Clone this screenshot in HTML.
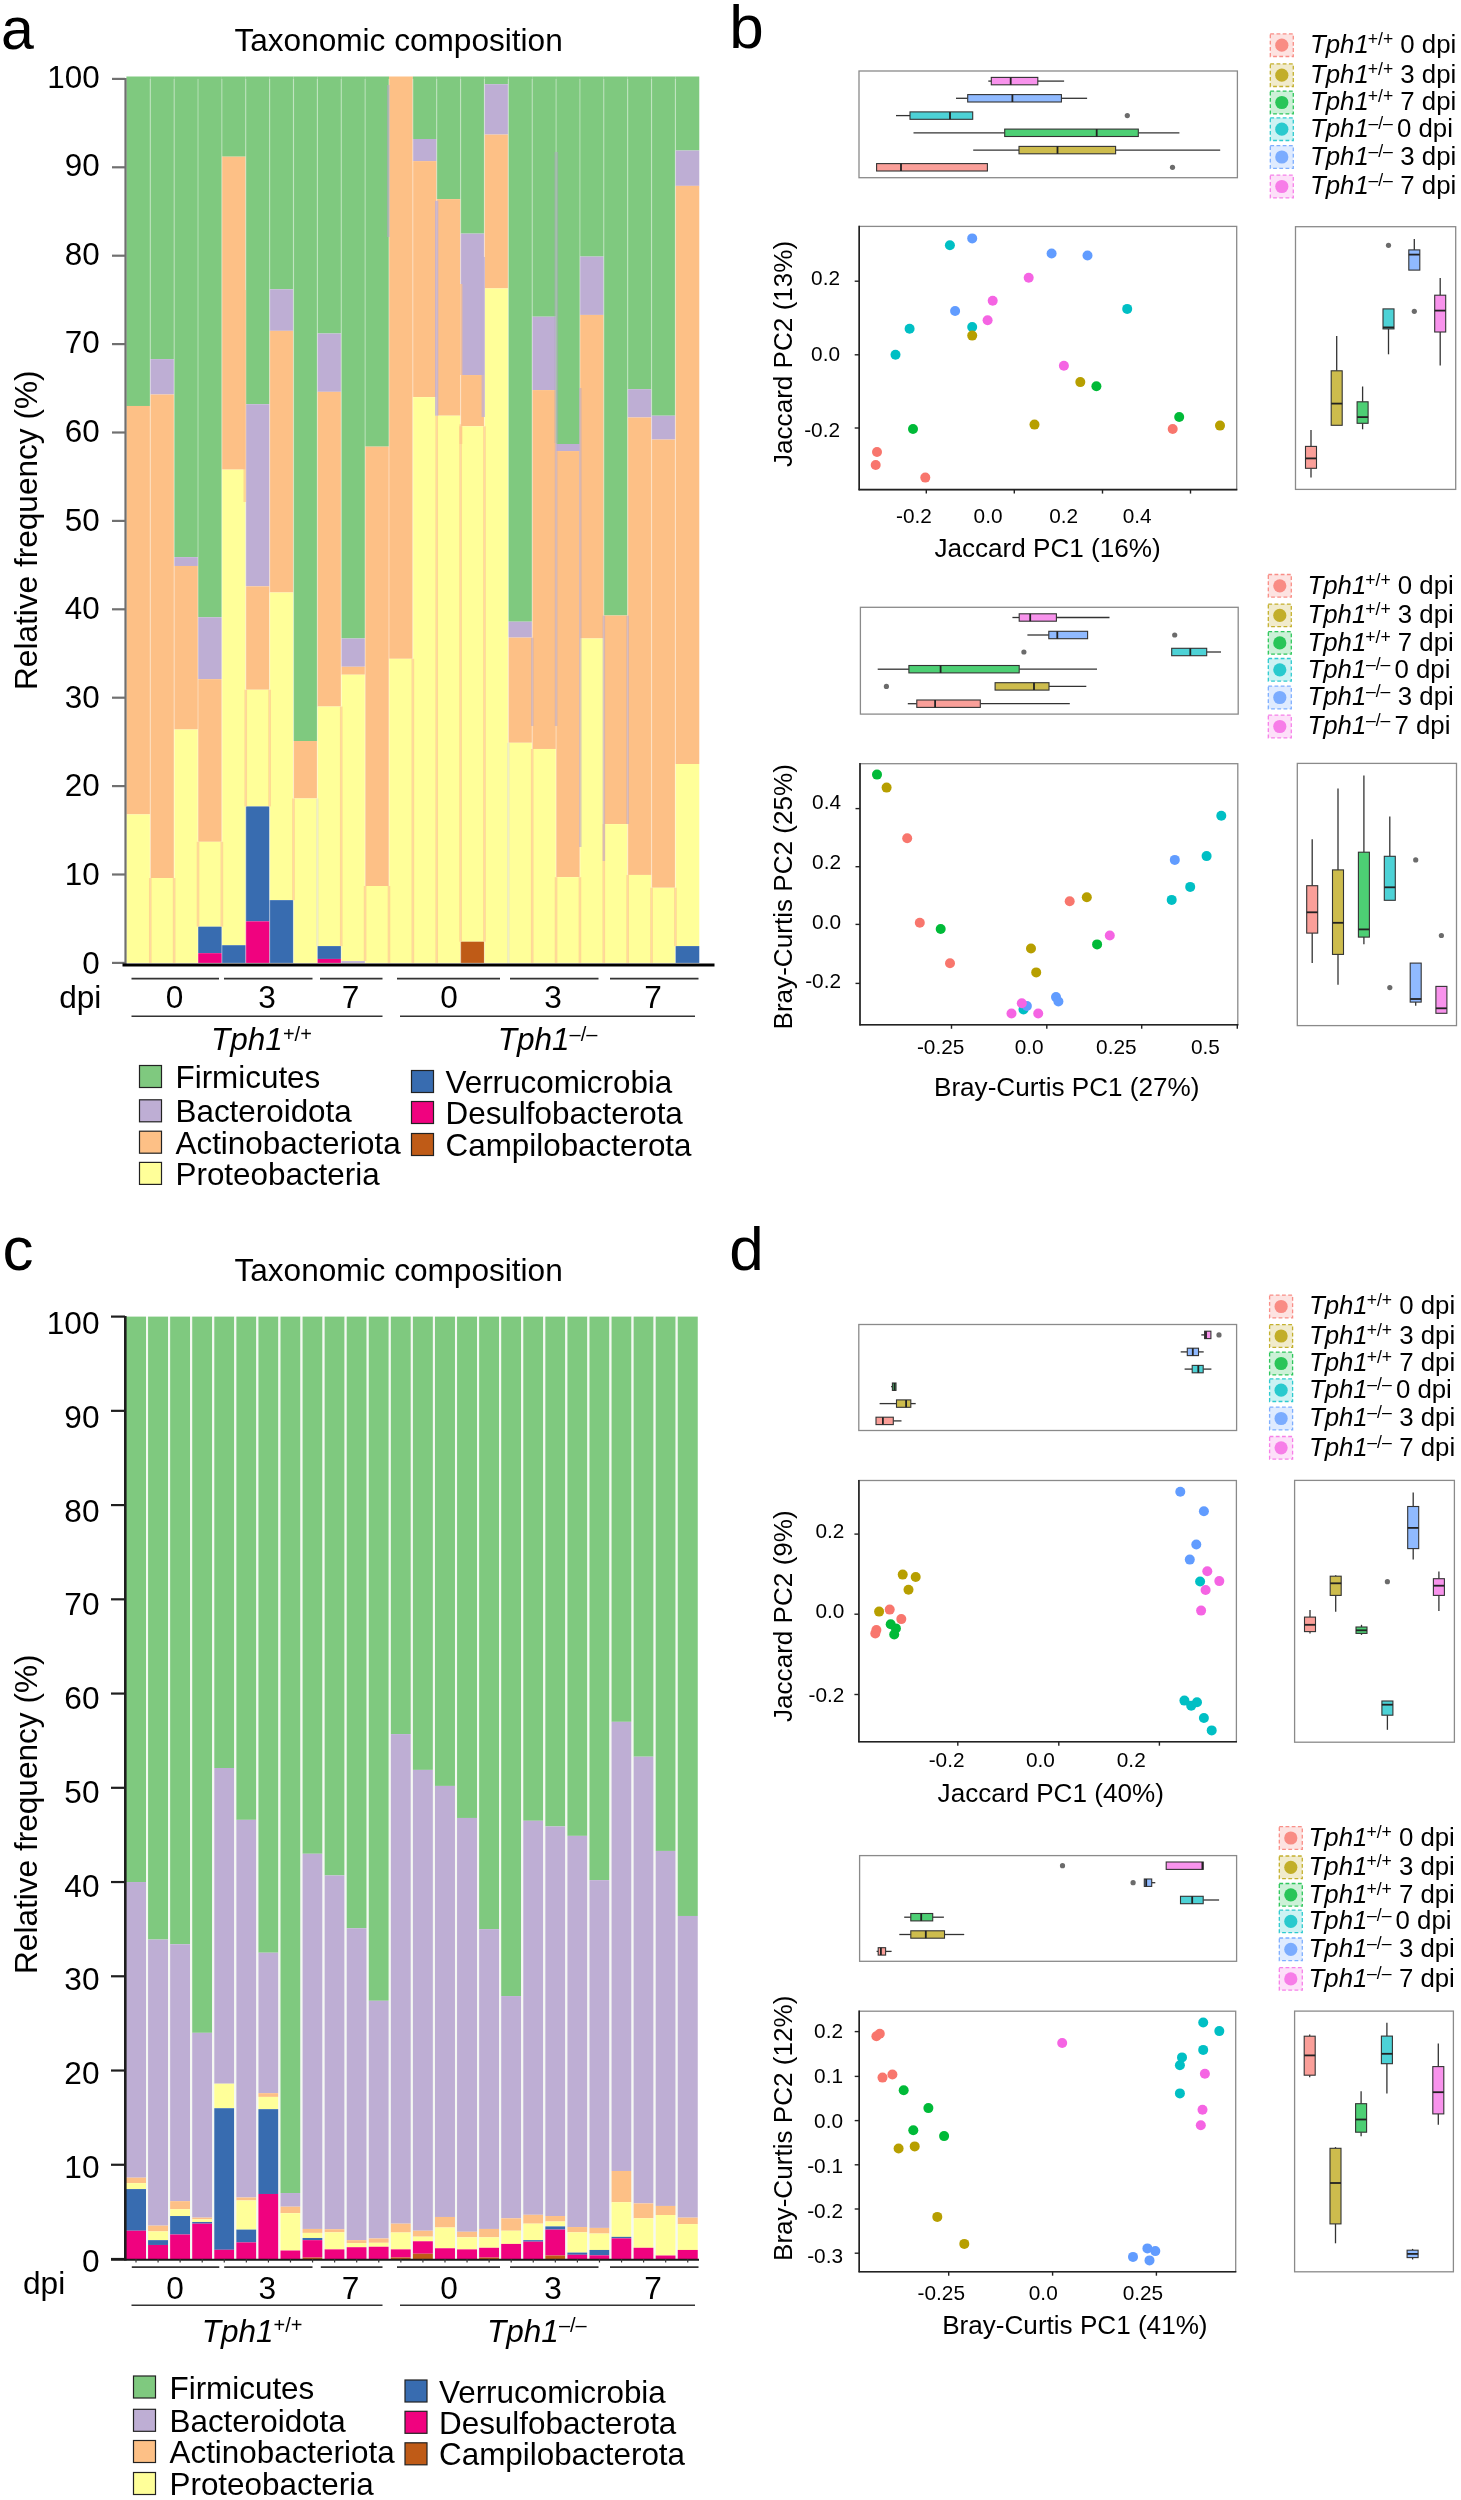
<!DOCTYPE html>
<html><head><meta charset="utf-8"><style>
html,body{margin:0;padding:0;background:#fff;}
body{width:1461px;height:2500px;overflow:hidden;}
svg{display:block;filter:blur(0.4px);}
</style></head><body>
<svg width="1461" height="2500" viewBox="0 0 1461 2500" font-family='"Liberation Sans", sans-serif'>
<rect x="0.00" y="0.00" width="1461.00" height="2500.00" fill="#fff" />
<rect x="126.40" y="76.50" width="23.87" height="329.48" fill="#7FC97F" />
<rect x="126.40" y="405.98" width="23.87" height="408.41" fill="#FDC086" />
<rect x="126.40" y="814.39" width="23.87" height="148.51" fill="#FFFF99" />
<rect x="150.27" y="76.50" width="23.87" height="282.63" fill="#7FC97F" />
<rect x="150.27" y="359.13" width="23.87" height="35.36" fill="#BEAED4" />
<rect x="150.27" y="394.49" width="23.87" height="483.55" fill="#FDC086" />
<rect x="150.27" y="878.04" width="23.87" height="84.86" fill="#FFFF99" />
<rect x="149.67" y="78.90" width="1.20" height="884.00" fill="#ffffff" opacity="0.35"/>
<rect x="174.14" y="76.50" width="23.87" height="480.64" fill="#7FC97F" />
<rect x="174.14" y="557.14" width="23.87" height="8.84" fill="#BEAED4" />
<rect x="174.14" y="565.98" width="23.87" height="163.54" fill="#FDC086" />
<rect x="174.14" y="729.52" width="23.87" height="233.38" fill="#FFFF99" />
<rect x="173.54" y="78.90" width="1.20" height="884.00" fill="#ffffff" opacity="0.35"/>
<rect x="198.01" y="76.50" width="23.87" height="540.76" fill="#7FC97F" />
<rect x="198.01" y="617.26" width="23.87" height="61.88" fill="#BEAED4" />
<rect x="198.01" y="679.14" width="23.87" height="162.66" fill="#FDC086" />
<rect x="198.01" y="841.79" width="23.87" height="84.86" fill="#FFFF99" />
<rect x="198.01" y="926.66" width="23.87" height="26.52" fill="#386CB0" />
<rect x="198.01" y="953.18" width="23.87" height="9.72" fill="#F0027F" />
<rect x="197.41" y="78.90" width="1.20" height="884.00" fill="#ffffff" opacity="0.35"/>
<rect x="221.88" y="76.50" width="23.87" height="80.19" fill="#7FC97F" />
<rect x="221.88" y="156.69" width="23.87" height="312.94" fill="#FDC086" />
<rect x="221.88" y="469.63" width="23.87" height="475.59" fill="#FFFF99" />
<rect x="221.88" y="945.22" width="23.87" height="17.68" fill="#386CB0" />
<rect x="221.28" y="78.90" width="1.20" height="884.00" fill="#ffffff" opacity="0.35"/>
<rect x="245.75" y="76.50" width="23.87" height="327.71" fill="#7FC97F" />
<rect x="245.75" y="404.21" width="23.87" height="182.10" fill="#BEAED4" />
<rect x="245.75" y="586.32" width="23.87" height="103.43" fill="#FDC086" />
<rect x="245.75" y="689.74" width="23.87" height="116.69" fill="#FFFF99" />
<rect x="245.75" y="806.43" width="23.87" height="114.92" fill="#386CB0" />
<rect x="245.75" y="921.35" width="23.87" height="41.55" fill="#F0027F" />
<rect x="245.15" y="78.90" width="1.20" height="884.00" fill="#ffffff" opacity="0.35"/>
<rect x="269.62" y="76.50" width="23.87" height="212.79" fill="#7FC97F" />
<rect x="269.62" y="289.29" width="23.87" height="41.55" fill="#BEAED4" />
<rect x="269.62" y="330.84" width="23.87" height="261.66" fill="#FDC086" />
<rect x="269.62" y="592.50" width="23.87" height="307.63" fill="#FFFF99" />
<rect x="269.62" y="900.14" width="23.87" height="62.76" fill="#386CB0" />
<rect x="269.02" y="78.90" width="1.20" height="884.00" fill="#ffffff" opacity="0.35"/>
<rect x="293.49" y="76.50" width="23.87" height="664.52" fill="#7FC97F" />
<rect x="293.49" y="741.02" width="23.87" height="57.46" fill="#FDC086" />
<rect x="293.49" y="798.48" width="23.87" height="164.42" fill="#FFFF99" />
<rect x="292.89" y="78.90" width="1.20" height="884.00" fill="#ffffff" opacity="0.35"/>
<rect x="317.36" y="76.50" width="23.87" height="256.99" fill="#7FC97F" />
<rect x="317.36" y="333.49" width="23.87" height="58.34" fill="#BEAED4" />
<rect x="317.36" y="391.84" width="23.87" height="314.70" fill="#FDC086" />
<rect x="317.36" y="706.54" width="23.87" height="239.56" fill="#FFFF99" />
<rect x="317.36" y="946.10" width="23.87" height="12.82" fill="#386CB0" />
<rect x="317.36" y="958.92" width="23.87" height="3.98" fill="#F0027F" />
<rect x="316.76" y="78.90" width="1.20" height="884.00" fill="#ffffff" opacity="0.35"/>
<rect x="341.23" y="76.50" width="23.87" height="561.97" fill="#7FC97F" />
<rect x="341.23" y="638.47" width="23.87" height="28.29" fill="#BEAED4" />
<rect x="341.23" y="666.76" width="23.87" height="7.96" fill="#FDC086" />
<rect x="341.23" y="674.72" width="23.87" height="286.42" fill="#FFFF99" />
<rect x="341.23" y="961.13" width="23.87" height="1.77" fill="#BEAED4" />
<rect x="340.63" y="78.90" width="1.20" height="884.00" fill="#ffffff" opacity="0.35"/>
<rect x="365.10" y="76.50" width="23.87" height="370.14" fill="#7FC97F" />
<rect x="365.10" y="446.64" width="23.87" height="439.35" fill="#FDC086" />
<rect x="365.10" y="885.99" width="23.87" height="76.91" fill="#FFFF99" />
<rect x="364.50" y="78.90" width="1.20" height="884.00" fill="#ffffff" opacity="0.35"/>
<rect x="388.97" y="76.50" width="23.87" height="582.30" fill="#FDC086" />
<rect x="388.97" y="658.80" width="23.87" height="304.10" fill="#FFFF99" />
<rect x="388.37" y="78.90" width="1.20" height="884.00" fill="#ffffff" opacity="0.35"/>
<rect x="412.84" y="76.50" width="23.87" height="62.51" fill="#7FC97F" />
<rect x="412.84" y="139.01" width="23.87" height="22.10" fill="#BEAED4" />
<rect x="412.84" y="161.11" width="23.87" height="236.03" fill="#FDC086" />
<rect x="412.84" y="397.14" width="23.87" height="565.76" fill="#FFFF99" />
<rect x="412.24" y="78.90" width="1.20" height="884.00" fill="#ffffff" opacity="0.35"/>
<rect x="436.71" y="76.50" width="23.87" height="122.62" fill="#7FC97F" />
<rect x="436.71" y="199.12" width="23.87" height="216.58" fill="#FDC086" />
<rect x="436.71" y="415.70" width="23.87" height="547.20" fill="#FFFF99" />
<rect x="436.11" y="78.90" width="1.20" height="884.00" fill="#ffffff" opacity="0.35"/>
<rect x="460.58" y="76.50" width="23.87" height="157.10" fill="#7FC97F" />
<rect x="460.58" y="233.60" width="23.87" height="141.44" fill="#BEAED4" />
<rect x="460.58" y="375.04" width="23.87" height="51.27" fill="#FDC086" />
<rect x="460.58" y="426.31" width="23.87" height="515.37" fill="#FFFF99" />
<rect x="460.58" y="941.68" width="23.87" height="21.22" fill="#BF5B17" />
<rect x="459.98" y="78.90" width="1.20" height="884.00" fill="#ffffff" opacity="0.35"/>
<rect x="484.45" y="76.50" width="23.87" height="7.70" fill="#7FC97F" />
<rect x="484.45" y="84.20" width="23.87" height="50.39" fill="#BEAED4" />
<rect x="484.45" y="134.59" width="23.87" height="153.82" fill="#FDC086" />
<rect x="484.45" y="288.41" width="23.87" height="674.49" fill="#FFFF99" />
<rect x="483.85" y="78.90" width="1.20" height="884.00" fill="#ffffff" opacity="0.35"/>
<rect x="508.32" y="76.50" width="23.87" height="545.18" fill="#7FC97F" />
<rect x="508.32" y="621.68" width="23.87" height="15.91" fill="#BEAED4" />
<rect x="508.32" y="637.59" width="23.87" height="105.20" fill="#FDC086" />
<rect x="508.32" y="742.78" width="23.87" height="220.12" fill="#FFFF99" />
<rect x="507.72" y="78.90" width="1.20" height="884.00" fill="#ffffff" opacity="0.35"/>
<rect x="532.19" y="76.50" width="23.87" height="240.20" fill="#7FC97F" />
<rect x="532.19" y="316.70" width="23.87" height="73.37" fill="#BEAED4" />
<rect x="532.19" y="390.07" width="23.87" height="358.90" fill="#FDC086" />
<rect x="532.19" y="748.97" width="23.87" height="213.93" fill="#FFFF99" />
<rect x="531.59" y="78.90" width="1.20" height="884.00" fill="#ffffff" opacity="0.35"/>
<rect x="556.06" y="76.50" width="23.87" height="367.49" fill="#7FC97F" />
<rect x="556.06" y="443.99" width="23.87" height="7.07" fill="#BEAED4" />
<rect x="556.06" y="451.06" width="23.87" height="426.09" fill="#FDC086" />
<rect x="556.06" y="877.15" width="23.87" height="85.75" fill="#FFFF99" />
<rect x="555.46" y="78.90" width="1.20" height="884.00" fill="#ffffff" opacity="0.35"/>
<rect x="579.93" y="76.50" width="23.87" height="180.08" fill="#7FC97F" />
<rect x="579.93" y="256.58" width="23.87" height="58.34" fill="#BEAED4" />
<rect x="579.93" y="314.93" width="23.87" height="323.54" fill="#FDC086" />
<rect x="579.93" y="638.47" width="23.87" height="324.43" fill="#FFFF99" />
<rect x="579.33" y="78.90" width="1.20" height="884.00" fill="#ffffff" opacity="0.35"/>
<rect x="603.80" y="76.50" width="23.87" height="538.99" fill="#7FC97F" />
<rect x="603.80" y="615.49" width="23.87" height="208.62" fill="#FDC086" />
<rect x="603.80" y="824.11" width="23.87" height="138.79" fill="#FFFF99" />
<rect x="603.20" y="78.90" width="1.20" height="884.00" fill="#ffffff" opacity="0.35"/>
<rect x="627.67" y="76.50" width="23.87" height="312.68" fill="#7FC97F" />
<rect x="627.67" y="389.18" width="23.87" height="28.29" fill="#BEAED4" />
<rect x="627.67" y="417.47" width="23.87" height="457.47" fill="#FDC086" />
<rect x="627.67" y="874.94" width="23.87" height="87.96" fill="#FFFF99" />
<rect x="627.07" y="78.90" width="1.20" height="884.00" fill="#ffffff" opacity="0.35"/>
<rect x="651.54" y="76.50" width="23.87" height="339.20" fill="#7FC97F" />
<rect x="651.54" y="415.70" width="23.87" height="23.87" fill="#BEAED4" />
<rect x="651.54" y="439.57" width="23.87" height="448.19" fill="#FDC086" />
<rect x="651.54" y="887.76" width="23.87" height="75.14" fill="#FFFF99" />
<rect x="650.94" y="78.90" width="1.20" height="884.00" fill="#ffffff" opacity="0.35"/>
<rect x="675.41" y="76.50" width="23.87" height="74.00" fill="#7FC97F" />
<rect x="675.41" y="150.50" width="23.87" height="35.36" fill="#BEAED4" />
<rect x="675.41" y="185.86" width="23.87" height="578.14" fill="#FDC086" />
<rect x="675.41" y="764.00" width="23.87" height="182.10" fill="#FFFF99" />
<rect x="675.41" y="946.10" width="23.87" height="16.80" fill="#386CB0" />
<rect x="674.81" y="78.90" width="1.20" height="884.00" fill="#ffffff" opacity="0.35"/>
<rect x="148.97" y="878.04" width="2.60" height="84.86" fill="#FDC086" opacity="0.6"/>
<rect x="172.84" y="878.04" width="2.60" height="84.86" fill="#FDC086" opacity="0.6"/>
<rect x="196.71" y="841.79" width="2.60" height="84.86" fill="#FDC086" opacity="0.6"/>
<rect x="220.58" y="841.79" width="2.60" height="84.86" fill="#FDC086" opacity="0.6"/>
<rect x="244.45" y="689.74" width="2.60" height="116.69" fill="#FDC086" opacity="0.6"/>
<rect x="268.32" y="689.74" width="2.60" height="116.69" fill="#FDC086" opacity="0.6"/>
<rect x="292.19" y="798.48" width="2.60" height="101.66" fill="#FDC086" opacity="0.6"/>
<rect x="316.06" y="798.48" width="2.60" height="147.63" fill="#E6E2C2" opacity="0.6"/>
<rect x="339.93" y="706.54" width="2.60" height="239.56" fill="#FDC086" opacity="0.6"/>
<rect x="363.80" y="885.99" width="2.60" height="75.14" fill="#FDC086" opacity="0.6"/>
<rect x="387.67" y="885.99" width="2.60" height="76.91" fill="#FDC086" opacity="0.6"/>
<rect x="411.54" y="658.80" width="2.60" height="304.10" fill="#FDC086" opacity="0.6"/>
<rect x="435.41" y="415.70" width="2.60" height="547.20" fill="#FDC086" opacity="0.6"/>
<rect x="459.28" y="426.31" width="2.60" height="515.37" fill="#FDC086" opacity="0.6"/>
<rect x="483.15" y="426.31" width="2.60" height="515.37" fill="#FDC086" opacity="0.6"/>
<rect x="507.02" y="742.78" width="2.60" height="220.12" fill="#E6E2C2" opacity="0.6"/>
<rect x="530.89" y="748.97" width="2.60" height="213.93" fill="#FDC086" opacity="0.6"/>
<rect x="554.76" y="877.15" width="2.60" height="85.75" fill="#FDC086" opacity="0.6"/>
<rect x="578.63" y="877.15" width="2.60" height="85.75" fill="#FDC086" opacity="0.6"/>
<rect x="602.50" y="824.11" width="2.60" height="138.79" fill="#FDC086" opacity="0.6"/>
<rect x="626.37" y="874.94" width="2.60" height="87.96" fill="#FDC086" opacity="0.6"/>
<rect x="650.24" y="887.76" width="2.60" height="75.14" fill="#FDC086" opacity="0.6"/>
<rect x="674.11" y="887.76" width="2.60" height="58.34" fill="#FDC086" opacity="0.6"/>
<rect x="435.00" y="200.80" width="3.30" height="214.90" fill="#BEAED4" opacity="0.75"/>
<rect x="459.40" y="284.00" width="3.00" height="91.00" fill="#FDC086" opacity="0.7"/>
<rect x="459.40" y="424.30" width="3.00" height="19.70" fill="#FDC086" opacity="0.6"/>
<rect x="481.60" y="257.00" width="3.40" height="160.00" fill="#BEAED4" opacity="0.7"/>
<rect x="554.50" y="152.00" width="3.60" height="291.00" fill="#A9A9B8" opacity="0.55"/>
<rect x="387.00" y="85.00" width="2.60" height="152.00" fill="#B0A8C0" opacity="0.6"/>
<rect x="243.50" y="290.00" width="2.60" height="212.00" fill="#FDC086" opacity="0.6"/>
<rect x="579.00" y="388.00" width="2.50" height="459.00" fill="#C0A8C0" opacity="0.6"/>
<rect x="531.00" y="637.70" width="2.50" height="88.30" fill="#C0A8C0" opacity="0.6"/>
<rect x="554.80" y="443.00" width="2.60" height="283.00" fill="#C0A8C0" opacity="0.6"/>
<rect x="602.60" y="615.60" width="2.50" height="245.40" fill="#C0A8C0" opacity="0.6"/>
<rect x="626.50" y="615.60" width="2.50" height="208.40" fill="#C0A8C0" opacity="0.6"/>
<line x1="125.50" y1="78.00" x2="125.50" y2="964.00" stroke="#707070" stroke-width="2.2" />
<line x1="112.00" y1="962.90" x2="125.00" y2="962.90" stroke="#707070" stroke-width="2.2" />
<text x="99.6" y="973.6" font-size="31.4" text-anchor="end" fill="#000" >0</text>
<line x1="112.00" y1="874.50" x2="125.00" y2="874.50" stroke="#707070" stroke-width="2.2" />
<text x="99.6" y="885.0" font-size="31.4" text-anchor="end" fill="#000" >10</text>
<line x1="112.00" y1="786.10" x2="125.00" y2="786.10" stroke="#707070" stroke-width="2.2" />
<text x="99.6" y="796.4" font-size="31.4" text-anchor="end" fill="#000" >20</text>
<line x1="112.00" y1="697.70" x2="125.00" y2="697.70" stroke="#707070" stroke-width="2.2" />
<text x="99.6" y="707.8" font-size="31.4" text-anchor="end" fill="#000" >30</text>
<line x1="112.00" y1="609.30" x2="125.00" y2="609.30" stroke="#707070" stroke-width="2.2" />
<text x="99.6" y="619.2" font-size="31.4" text-anchor="end" fill="#000" >40</text>
<line x1="112.00" y1="520.90" x2="125.00" y2="520.90" stroke="#707070" stroke-width="2.2" />
<text x="99.6" y="530.6" font-size="31.4" text-anchor="end" fill="#000" >50</text>
<line x1="112.00" y1="432.50" x2="125.00" y2="432.50" stroke="#707070" stroke-width="2.2" />
<text x="99.6" y="442.0" font-size="31.4" text-anchor="end" fill="#000" >60</text>
<line x1="112.00" y1="344.10" x2="125.00" y2="344.10" stroke="#707070" stroke-width="2.2" />
<text x="99.6" y="353.4" font-size="31.4" text-anchor="end" fill="#000" >70</text>
<line x1="112.00" y1="255.70" x2="125.00" y2="255.70" stroke="#707070" stroke-width="2.2" />
<text x="99.6" y="264.8" font-size="31.4" text-anchor="end" fill="#000" >80</text>
<line x1="112.00" y1="167.30" x2="125.00" y2="167.30" stroke="#707070" stroke-width="2.2" />
<text x="99.6" y="176.2" font-size="31.4" text-anchor="end" fill="#000" >90</text>
<line x1="112.00" y1="78.90" x2="125.00" y2="78.90" stroke="#707070" stroke-width="2.2" />
<text x="99.6" y="87.6" font-size="31.4" text-anchor="end" fill="#000" >100</text>
<line x1="122.50" y1="965.00" x2="714.50" y2="965.00" stroke="#000" stroke-width="3" />
<text x="1.0" y="48.5" font-size="59" text-anchor="start" fill="#000" >a</text>
<text x="234.4" y="50.8" font-size="31.6" text-anchor="start" fill="#000" >Taxonomic composition</text>
<text transform="translate(37,690) rotate(-90)" font-size="31.6" x="0" y="0">Relative frequency (%)</text>
<line x1="131.50" y1="978.60" x2="219.00" y2="978.60" stroke="#333" stroke-width="1.6" />
<line x1="224.00" y1="978.60" x2="312.50" y2="978.60" stroke="#333" stroke-width="1.6" />
<line x1="320.00" y1="978.60" x2="382.50" y2="978.60" stroke="#333" stroke-width="1.6" />
<line x1="397.00" y1="978.60" x2="500.00" y2="978.60" stroke="#333" stroke-width="1.6" />
<line x1="510.00" y1="978.60" x2="598.50" y2="978.60" stroke="#333" stroke-width="1.6" />
<line x1="610.00" y1="978.60" x2="698.50" y2="978.60" stroke="#333" stroke-width="1.6" />
<text x="174.5" y="1008.0" font-size="31.6" text-anchor="middle" fill="#000" >0</text>
<text x="267.0" y="1008.0" font-size="31.6" text-anchor="middle" fill="#000" >3</text>
<text x="350.5" y="1008.0" font-size="31.6" text-anchor="middle" fill="#000" >7</text>
<text x="449.0" y="1008.0" font-size="31.6" text-anchor="middle" fill="#000" >0</text>
<text x="553.0" y="1008.0" font-size="31.6" text-anchor="middle" fill="#000" >3</text>
<text x="653.0" y="1008.0" font-size="31.6" text-anchor="middle" fill="#000" >7</text>
<line x1="131.50" y1="1016.20" x2="382.50" y2="1016.20" stroke="#333" stroke-width="1.6" />
<line x1="400.00" y1="1016.20" x2="695.00" y2="1016.20" stroke="#333" stroke-width="1.6" />
<text x="59.2" y="1008.0" font-size="31.6" text-anchor="start" fill="#000" >dpi</text>
<text x="211.0" y="1050.3" font-size="31.5" text-anchor="start" font-style="italic" fill="#000" >Tph1</text>
<text x="282.9" y="1040.5" font-size="20" text-anchor="start" fill="#000" >+/+</text>
<text x="497.7" y="1050.3" font-size="31.5" text-anchor="start" font-style="italic" fill="#000" >Tph1</text>
<text x="569.6" y="1040.5" font-size="20" text-anchor="start" fill="#000" >–/–</text>
<rect x="139.50" y="1065.50" width="22.00" height="22.00" fill="#7FC97F" stroke="#222" stroke-width="1.2"/>
<text x="175.5" y="1088.0" font-size="31.4" text-anchor="start" fill="#000" >Firmicutes</text>
<rect x="139.50" y="1099.80" width="22.00" height="22.00" fill="#BEAED4" stroke="#222" stroke-width="1.2"/>
<text x="175.5" y="1122.3" font-size="31.4" text-anchor="start" fill="#000" >Bacteroidota</text>
<rect x="139.50" y="1131.20" width="22.00" height="22.00" fill="#FDC086" stroke="#222" stroke-width="1.2"/>
<text x="175.5" y="1153.7" font-size="31.4" text-anchor="start" fill="#000" >Actinobacteriota</text>
<rect x="139.50" y="1162.40" width="22.00" height="22.00" fill="#FFFF99" stroke="#222" stroke-width="1.2"/>
<text x="175.5" y="1184.9" font-size="31.4" text-anchor="start" fill="#000" >Proteobacteria</text>
<rect x="411.50" y="1070.50" width="22.00" height="22.00" fill="#386CB0" stroke="#222" stroke-width="1.2"/>
<text x="445.5" y="1093.0" font-size="31.4" text-anchor="start" fill="#000" >Verrucomicrobia</text>
<rect x="411.50" y="1101.50" width="22.00" height="22.00" fill="#F0027F" stroke="#222" stroke-width="1.2"/>
<text x="445.5" y="1124.0" font-size="31.4" text-anchor="start" fill="#000" >Desulfobacterota</text>
<rect x="411.50" y="1133.50" width="22.00" height="22.00" fill="#BF5B17" stroke="#222" stroke-width="1.2"/>
<text x="445.5" y="1156.0" font-size="31.4" text-anchor="start" fill="#000" >Campilobacterota</text>
<text x="729.2" y="48.0" font-size="62" text-anchor="start" fill="#000" >b</text>
<rect x="1270.3" y="33.9" width="23" height="22.6" fill="#FDE3E1" stroke="#F8766D" stroke-opacity="0.8" stroke-width="1.3" stroke-dasharray="3.8 2.4"/>
<circle cx="1281.8" cy="45.2" r="6.6" fill="#F8766D" opacity="0.8"/>
<text x="1310.0" y="53.1" font-size="25.8" text-anchor="start" font-style="italic" fill="#000" >Tph1</text>
<text x="1367.8" y="45.1" font-size="17.6" text-anchor="start" fill="#000" >+/+</text>
<text x="1400.3" y="53.1" font-size="25.8" text-anchor="start" fill="#000" >0 dpi</text>
<rect x="1270.3" y="63.9" width="23" height="22.6" fill="#F1EBCC" stroke="#B79F00" stroke-opacity="0.8" stroke-width="1.3" stroke-dasharray="3.8 2.4"/>
<circle cx="1281.8" cy="75.2" r="6.6" fill="#B79F00" opacity="0.8"/>
<text x="1310.0" y="83.1" font-size="25.8" text-anchor="start" font-style="italic" fill="#000" >Tph1</text>
<text x="1367.8" y="75.1" font-size="17.6" text-anchor="start" fill="#000" >+/+</text>
<text x="1400.3" y="83.1" font-size="25.8" text-anchor="start" fill="#000" >3 dpi</text>
<rect x="1270.3" y="91.2" width="23" height="22.6" fill="#CCF1D7" stroke="#00BA38" stroke-opacity="0.8" stroke-width="1.3" stroke-dasharray="3.8 2.4"/>
<circle cx="1281.8" cy="102.5" r="6.6" fill="#00BA38" opacity="0.8"/>
<text x="1310.0" y="110.4" font-size="25.8" text-anchor="start" font-style="italic" fill="#000" >Tph1</text>
<text x="1367.8" y="102.4" font-size="17.6" text-anchor="start" fill="#000" >+/+</text>
<text x="1400.3" y="110.4" font-size="25.8" text-anchor="start" fill="#000" >7 dpi</text>
<rect x="1270.3" y="117.9" width="23" height="22.6" fill="#CCF2F3" stroke="#00BFC4" stroke-opacity="0.8" stroke-width="1.3" stroke-dasharray="3.8 2.4"/>
<circle cx="1281.8" cy="129.2" r="6.6" fill="#00BFC4" opacity="0.8"/>
<text x="1310.0" y="137.1" font-size="25.8" text-anchor="start" font-style="italic" fill="#000" >Tph1</text>
<text x="1368.4" y="129.1" font-size="17.6" text-anchor="start" fill="#000" >–/–</text>
<text x="1397.0" y="137.1" font-size="25.8" text-anchor="start" fill="#000" >0 dpi</text>
<rect x="1270.3" y="145.7" width="23" height="22.6" fill="#DFEBFF" stroke="#619CFF" stroke-opacity="0.8" stroke-width="1.3" stroke-dasharray="3.8 2.4"/>
<circle cx="1281.8" cy="157.0" r="6.6" fill="#619CFF" opacity="0.8"/>
<text x="1310.0" y="164.9" font-size="25.8" text-anchor="start" font-style="italic" fill="#000" >Tph1</text>
<text x="1368.4" y="156.9" font-size="17.6" text-anchor="start" fill="#000" >–/–</text>
<text x="1400.3" y="164.9" font-size="25.8" text-anchor="start" fill="#000" >3 dpi</text>
<rect x="1270.3" y="175.2" width="23" height="22.6" fill="#FDE0F9" stroke="#F564E3" stroke-opacity="0.8" stroke-width="1.3" stroke-dasharray="3.8 2.4"/>
<circle cx="1281.8" cy="186.5" r="6.6" fill="#F564E3" opacity="0.8"/>
<text x="1310.0" y="194.4" font-size="25.8" text-anchor="start" font-style="italic" fill="#000" >Tph1</text>
<text x="1368.4" y="186.4" font-size="17.6" text-anchor="start" fill="#000" >–/–</text>
<text x="1400.3" y="194.4" font-size="25.8" text-anchor="start" fill="#000" >7 dpi</text>
<rect x="859.00" y="71.00" width="378.40" height="106.70" fill="none" stroke="#8a8a8a" stroke-width="1.3"/>
<line x1="988.30" y1="81.10" x2="991.30" y2="81.10" stroke="#333" stroke-width="1.3" />
<line x1="1037.80" y1="81.10" x2="1064.10" y2="81.10" stroke="#333" stroke-width="1.3" />
<rect x="991.30" y="77.40" width="46.50" height="7.40" fill="#F893EC" stroke="#333" stroke-width="1.1"/>
<line x1="1010.70" y1="77.40" x2="1010.70" y2="84.80" stroke="#222" stroke-width="1.8" />
<line x1="956.00" y1="98.30" x2="967.70" y2="98.30" stroke="#333" stroke-width="1.3" />
<line x1="1061.40" y1="98.30" x2="1087.10" y2="98.30" stroke="#333" stroke-width="1.3" />
<rect x="967.70" y="94.60" width="93.70" height="7.40" fill="#90BAFF" stroke="#333" stroke-width="1.1"/>
<line x1="1012.40" y1="94.60" x2="1012.40" y2="102.00" stroke="#222" stroke-width="1.8" />
<line x1="896.00" y1="115.60" x2="910.00" y2="115.60" stroke="#333" stroke-width="1.3" />
<rect x="910.00" y="111.90" width="62.70" height="7.40" fill="#4DD2D6" stroke="#333" stroke-width="1.1"/>
<line x1="950.00" y1="111.90" x2="950.00" y2="119.30" stroke="#222" stroke-width="1.8" />
<circle cx="1127.30" cy="115.60" r="2.6" fill="#6b6b6b"/>
<line x1="913.50" y1="132.80" x2="1004.70" y2="132.80" stroke="#333" stroke-width="1.3" />
<line x1="1138.30" y1="132.80" x2="1179.40" y2="132.80" stroke="#333" stroke-width="1.3" />
<rect x="1004.70" y="129.10" width="133.60" height="7.40" fill="#4DCF74" stroke="#333" stroke-width="1.1"/>
<line x1="1096.70" y1="129.10" x2="1096.70" y2="136.50" stroke="#222" stroke-width="1.8" />
<line x1="973.20" y1="150.10" x2="1019.00" y2="150.10" stroke="#333" stroke-width="1.3" />
<line x1="1115.60" y1="150.10" x2="1220.20" y2="150.10" stroke="#333" stroke-width="1.3" />
<rect x="1019.00" y="146.40" width="96.60" height="7.40" fill="#CDBC4D" stroke="#333" stroke-width="1.1"/>
<line x1="1057.50" y1="146.40" x2="1057.50" y2="153.80" stroke="#222" stroke-width="1.8" />
<rect x="876.60" y="163.60" width="110.80" height="7.40" fill="#FA9F99" stroke="#333" stroke-width="1.1"/>
<line x1="901.00" y1="163.60" x2="901.00" y2="171.00" stroke="#222" stroke-width="1.8" />
<circle cx="1172.50" cy="167.30" r="2.6" fill="#6b6b6b"/>
<rect x="1295.50" y="226.70" width="160.20" height="262.70" fill="none" stroke="#8a8a8a" stroke-width="1.3"/>
<line x1="1311.00" y1="429.90" x2="1311.00" y2="446.40" stroke="#333" stroke-width="1.3" />
<line x1="1311.00" y1="468.30" x2="1311.00" y2="477.60" stroke="#333" stroke-width="1.3" />
<rect x="1305.50" y="446.40" width="11.00" height="21.90" fill="#FA9F99" stroke="#333" stroke-width="1.1"/>
<line x1="1305.50" y1="458.40" x2="1316.50" y2="458.40" stroke="#222" stroke-width="1.8" />
<line x1="1336.70" y1="336.10" x2="1336.70" y2="370.80" stroke="#333" stroke-width="1.3" />
<rect x="1331.20" y="370.80" width="11.00" height="54.50" fill="#CDBC4D" stroke="#333" stroke-width="1.1"/>
<line x1="1331.20" y1="403.60" x2="1342.20" y2="403.60" stroke="#222" stroke-width="1.8" />
<line x1="1362.60" y1="386.50" x2="1362.60" y2="401.80" stroke="#333" stroke-width="1.3" />
<line x1="1362.60" y1="423.30" x2="1362.60" y2="429.30" stroke="#333" stroke-width="1.3" />
<rect x="1357.10" y="401.80" width="11.00" height="21.50" fill="#4DCF74" stroke="#333" stroke-width="1.1"/>
<line x1="1357.10" y1="417.10" x2="1368.10" y2="417.10" stroke="#222" stroke-width="1.8" />
<line x1="1388.50" y1="328.90" x2="1388.50" y2="354.30" stroke="#333" stroke-width="1.3" />
<rect x="1383.00" y="308.90" width="11.00" height="20.00" fill="#4DD2D6" stroke="#333" stroke-width="1.1"/>
<line x1="1383.00" y1="327.40" x2="1394.00" y2="327.40" stroke="#222" stroke-width="1.8" />
<circle cx="1388.50" cy="245.30" r="2.6" fill="#6b6b6b"/>
<line x1="1414.30" y1="239.10" x2="1414.30" y2="249.90" stroke="#333" stroke-width="1.3" />
<rect x="1408.80" y="249.90" width="11.00" height="20.20" fill="#90BAFF" stroke="#333" stroke-width="1.1"/>
<line x1="1408.80" y1="254.60" x2="1419.80" y2="254.60" stroke="#222" stroke-width="1.8" />
<circle cx="1414.30" cy="311.30" r="2.6" fill="#6b6b6b"/>
<line x1="1440.20" y1="278.10" x2="1440.20" y2="295.20" stroke="#333" stroke-width="1.3" />
<line x1="1440.20" y1="332.00" x2="1440.20" y2="365.50" stroke="#333" stroke-width="1.3" />
<rect x="1434.70" y="295.20" width="11.00" height="36.80" fill="#F893EC" stroke="#333" stroke-width="1.1"/>
<line x1="1434.70" y1="310.60" x2="1445.70" y2="310.60" stroke="#222" stroke-width="1.8" />
<rect x="859.20" y="226.40" width="377.50" height="263.20" fill="none" stroke="#8a8a8a" stroke-width="1.3"/>
<line x1="859.20" y1="225.80" x2="859.20" y2="490.20" stroke="#222" stroke-width="1.6" />
<line x1="858.60" y1="489.60" x2="1237.30" y2="489.60" stroke="#222" stroke-width="1.6" />
<line x1="854.70" y1="281.20" x2="859.20" y2="281.20" stroke="#222" stroke-width="1.4" />
<line x1="854.70" y1="354.80" x2="859.20" y2="354.80" stroke="#222" stroke-width="1.4" />
<line x1="854.70" y1="428.00" x2="859.20" y2="428.00" stroke="#222" stroke-width="1.4" />
<text x="840.0" y="284.9" font-size="20.8" text-anchor="end" fill="#000" >0.2</text>
<text x="840.0" y="360.9" font-size="20.8" text-anchor="end" fill="#000" >0.0</text>
<text x="840.0" y="436.8" font-size="20.8" text-anchor="end" fill="#000" >-0.2</text>
<line x1="926.30" y1="489.60" x2="926.30" y2="493.60" stroke="#222" stroke-width="1.4" />
<line x1="1014.30" y1="489.60" x2="1014.30" y2="493.60" stroke="#222" stroke-width="1.4" />
<line x1="1102.50" y1="489.60" x2="1102.50" y2="493.60" stroke="#222" stroke-width="1.4" />
<line x1="1190.50" y1="489.60" x2="1190.50" y2="493.60" stroke="#222" stroke-width="1.4" />
<text x="896.0" y="522.7" font-size="20.8" text-anchor="start" fill="#000" >-0.2</text>
<text x="973.6" y="522.7" font-size="20.8" text-anchor="start" fill="#000" >0.0</text>
<text x="1049.2" y="522.7" font-size="20.8" text-anchor="start" fill="#000" >0.2</text>
<text x="1122.7" y="522.7" font-size="20.8" text-anchor="start" fill="#000" >0.4</text>
<circle cx="949.9" cy="245.2" r="5.0" fill="#00BFC4"/>
<circle cx="972.2" cy="238.4" r="5.0" fill="#619CFF"/>
<circle cx="1051.6" cy="253.5" r="5.0" fill="#619CFF"/>
<circle cx="1087.5" cy="255.5" r="5.0" fill="#619CFF"/>
<circle cx="1028.7" cy="277.8" r="5.0" fill="#F564E3"/>
<circle cx="992.7" cy="300.7" r="5.0" fill="#F564E3"/>
<circle cx="955.1" cy="311.0" r="5.0" fill="#619CFF"/>
<circle cx="1127.2" cy="308.9" r="5.0" fill="#00BFC4"/>
<circle cx="987.6" cy="320.2" r="5.0" fill="#F564E3"/>
<circle cx="972.2" cy="327.0" r="5.0" fill="#00BFC4"/>
<circle cx="972.2" cy="335.6" r="5.0" fill="#B79F00"/>
<circle cx="909.6" cy="328.8" r="5.0" fill="#00BFC4"/>
<circle cx="895.5" cy="354.8" r="5.0" fill="#00BFC4"/>
<circle cx="1063.9" cy="365.7" r="5.0" fill="#F564E3"/>
<circle cx="1080.3" cy="382.1" r="5.0" fill="#B79F00"/>
<circle cx="1096.4" cy="386.2" r="5.0" fill="#00BA38"/>
<circle cx="1179.2" cy="417.0" r="5.0" fill="#00BA38"/>
<circle cx="1220.0" cy="425.6" r="5.0" fill="#B79F00"/>
<circle cx="1172.7" cy="429.0" r="5.0" fill="#F8766D"/>
<circle cx="1034.5" cy="424.6" r="5.0" fill="#B79F00"/>
<circle cx="913.0" cy="429.0" r="5.0" fill="#00BA38"/>
<circle cx="877.0" cy="452.0" r="5.0" fill="#F8766D"/>
<circle cx="875.7" cy="465.0" r="5.0" fill="#F8766D"/>
<circle cx="925.3" cy="477.6" r="5.0" fill="#F8766D"/>
<text x="934.4" y="556.5" font-size="26.1" text-anchor="start" fill="#000" >Jaccard PC1 (16%)</text>
<text transform="translate(792.4,467.0) rotate(-90)" font-size="26.1" x="0" y="0">Jaccard PC2 (13%)</text>
<rect x="1268.3" y="574.5" width="23" height="22.6" fill="#FDE3E1" stroke="#F8766D" stroke-opacity="0.8" stroke-width="1.3" stroke-dasharray="3.8 2.4"/>
<circle cx="1279.8" cy="585.8" r="6.6" fill="#F8766D" opacity="0.8"/>
<text x="1307.5" y="593.7" font-size="25.8" text-anchor="start" font-style="italic" fill="#000" >Tph1</text>
<text x="1365.3" y="585.7" font-size="17.6" text-anchor="start" fill="#000" >+/+</text>
<text x="1397.8" y="593.7" font-size="25.8" text-anchor="start" fill="#000" >0 dpi</text>
<rect x="1268.3" y="604.1" width="23" height="22.6" fill="#F1EBCC" stroke="#B79F00" stroke-opacity="0.8" stroke-width="1.3" stroke-dasharray="3.8 2.4"/>
<circle cx="1279.8" cy="615.4" r="6.6" fill="#B79F00" opacity="0.8"/>
<text x="1307.5" y="623.3" font-size="25.8" text-anchor="start" font-style="italic" fill="#000" >Tph1</text>
<text x="1365.3" y="615.3" font-size="17.6" text-anchor="start" fill="#000" >+/+</text>
<text x="1397.8" y="623.3" font-size="25.8" text-anchor="start" fill="#000" >3 dpi</text>
<rect x="1268.3" y="631.6" width="23" height="22.6" fill="#CCF1D7" stroke="#00BA38" stroke-opacity="0.8" stroke-width="1.3" stroke-dasharray="3.8 2.4"/>
<circle cx="1279.8" cy="642.9" r="6.6" fill="#00BA38" opacity="0.8"/>
<text x="1307.5" y="650.8" font-size="25.8" text-anchor="start" font-style="italic" fill="#000" >Tph1</text>
<text x="1365.3" y="642.8" font-size="17.6" text-anchor="start" fill="#000" >+/+</text>
<text x="1397.8" y="650.8" font-size="25.8" text-anchor="start" fill="#000" >7 dpi</text>
<rect x="1268.3" y="658.5" width="23" height="22.6" fill="#CCF2F3" stroke="#00BFC4" stroke-opacity="0.8" stroke-width="1.3" stroke-dasharray="3.8 2.4"/>
<circle cx="1279.8" cy="669.8" r="6.6" fill="#00BFC4" opacity="0.8"/>
<text x="1307.5" y="677.7" font-size="25.8" text-anchor="start" font-style="italic" fill="#000" >Tph1</text>
<text x="1365.9" y="669.7" font-size="17.6" text-anchor="start" fill="#000" >–/–</text>
<text x="1394.5" y="677.7" font-size="25.8" text-anchor="start" fill="#000" >0 dpi</text>
<rect x="1268.3" y="686.2" width="23" height="22.6" fill="#DFEBFF" stroke="#619CFF" stroke-opacity="0.8" stroke-width="1.3" stroke-dasharray="3.8 2.4"/>
<circle cx="1279.8" cy="697.5" r="6.6" fill="#619CFF" opacity="0.8"/>
<text x="1307.5" y="705.4" font-size="25.8" text-anchor="start" font-style="italic" fill="#000" >Tph1</text>
<text x="1365.9" y="697.4" font-size="17.6" text-anchor="start" fill="#000" >–/–</text>
<text x="1397.8" y="705.4" font-size="25.8" text-anchor="start" fill="#000" >3 dpi</text>
<rect x="1268.3" y="715.2" width="23" height="22.6" fill="#FDE0F9" stroke="#F564E3" stroke-opacity="0.8" stroke-width="1.3" stroke-dasharray="3.8 2.4"/>
<circle cx="1279.8" cy="726.5" r="6.6" fill="#F564E3" opacity="0.8"/>
<text x="1307.5" y="734.4" font-size="25.8" text-anchor="start" font-style="italic" fill="#000" >Tph1</text>
<text x="1365.9" y="726.4" font-size="17.6" text-anchor="start" fill="#000" >–/–</text>
<text x="1394.5" y="734.4" font-size="25.8" text-anchor="start" fill="#000" >7 dpi</text>
<rect x="860.40" y="607.30" width="377.80" height="106.80" fill="none" stroke="#8a8a8a" stroke-width="1.3"/>
<line x1="1012.40" y1="617.50" x2="1019.20" y2="617.50" stroke="#333" stroke-width="1.3" />
<line x1="1056.40" y1="617.50" x2="1109.50" y2="617.50" stroke="#333" stroke-width="1.3" />
<rect x="1019.20" y="613.80" width="37.20" height="7.40" fill="#F893EC" stroke="#333" stroke-width="1.1"/>
<line x1="1030.20" y1="613.80" x2="1030.20" y2="621.20" stroke="#222" stroke-width="1.8" />
<line x1="1027.40" y1="635.00" x2="1048.80" y2="635.00" stroke="#333" stroke-width="1.3" />
<rect x="1048.80" y="631.30" width="38.80" height="7.40" fill="#90BAFF" stroke="#333" stroke-width="1.1"/>
<line x1="1057.30" y1="631.30" x2="1057.30" y2="638.70" stroke="#222" stroke-width="1.8" />
<circle cx="1174.70" cy="635.00" r="2.6" fill="#6b6b6b"/>
<line x1="1206.70" y1="652.00" x2="1221.00" y2="652.00" stroke="#333" stroke-width="1.3" />
<rect x="1171.70" y="648.30" width="35.00" height="7.40" fill="#4DD2D6" stroke="#333" stroke-width="1.1"/>
<line x1="1190.30" y1="648.30" x2="1190.30" y2="655.70" stroke="#222" stroke-width="1.8" />
<circle cx="1023.90" cy="652.00" r="2.6" fill="#6b6b6b"/>
<line x1="877.70" y1="669.20" x2="908.90" y2="669.20" stroke="#333" stroke-width="1.3" />
<line x1="1019.20" y1="669.20" x2="1097.00" y2="669.20" stroke="#333" stroke-width="1.3" />
<rect x="908.90" y="665.50" width="110.30" height="7.40" fill="#4DCF74" stroke="#333" stroke-width="1.1"/>
<line x1="940.60" y1="665.50" x2="940.60" y2="672.90" stroke="#222" stroke-width="1.8" />
<line x1="1049.00" y1="686.40" x2="1086.30" y2="686.40" stroke="#333" stroke-width="1.3" />
<rect x="995.10" y="682.70" width="53.90" height="7.40" fill="#CDBC4D" stroke="#333" stroke-width="1.1"/>
<line x1="1034.00" y1="682.70" x2="1034.00" y2="690.10" stroke="#222" stroke-width="1.8" />
<circle cx="886.40" cy="686.40" r="2.6" fill="#6b6b6b"/>
<line x1="907.80" y1="703.70" x2="916.80" y2="703.70" stroke="#333" stroke-width="1.3" />
<line x1="980.30" y1="703.70" x2="1069.80" y2="703.70" stroke="#333" stroke-width="1.3" />
<rect x="916.80" y="700.00" width="63.50" height="7.40" fill="#FA9F99" stroke="#333" stroke-width="1.1"/>
<line x1="935.10" y1="700.00" x2="935.10" y2="707.40" stroke="#222" stroke-width="1.8" />
<rect x="860.00" y="763.70" width="377.80" height="261.10" fill="none" stroke="#8a8a8a" stroke-width="1.3"/>
<line x1="860.00" y1="763.10" x2="860.00" y2="1025.40" stroke="#222" stroke-width="1.6" />
<line x1="859.40" y1="1024.80" x2="1238.40" y2="1024.80" stroke="#222" stroke-width="1.6" />
<line x1="855.50" y1="808.60" x2="860.00" y2="808.60" stroke="#222" stroke-width="1.4" />
<line x1="855.50" y1="866.70" x2="860.00" y2="866.70" stroke="#222" stroke-width="1.4" />
<line x1="855.50" y1="924.40" x2="860.00" y2="924.40" stroke="#222" stroke-width="1.4" />
<line x1="855.50" y1="983.40" x2="860.00" y2="983.40" stroke="#222" stroke-width="1.4" />
<text x="841.0" y="809.0" font-size="20.8" text-anchor="end" fill="#000" >0.4</text>
<text x="841.0" y="868.7" font-size="20.8" text-anchor="end" fill="#000" >0.2</text>
<text x="841.0" y="928.7" font-size="20.8" text-anchor="end" fill="#000" >0.0</text>
<text x="841.0" y="988.2" font-size="20.8" text-anchor="end" fill="#000" >-0.2</text>
<line x1="951.50" y1="1024.80" x2="951.50" y2="1028.80" stroke="#222" stroke-width="1.4" />
<line x1="1046.80" y1="1024.80" x2="1046.80" y2="1028.80" stroke="#222" stroke-width="1.4" />
<line x1="1141.70" y1="1024.80" x2="1141.70" y2="1028.80" stroke="#222" stroke-width="1.4" />
<line x1="1237.30" y1="1024.80" x2="1237.30" y2="1028.80" stroke="#222" stroke-width="1.4" />
<text x="916.9" y="1053.8" font-size="20.8" text-anchor="start" fill="#000" >-0.25</text>
<text x="1014.7" y="1053.8" font-size="20.8" text-anchor="start" fill="#000" >0.0</text>
<text x="1096.1" y="1053.8" font-size="20.8" text-anchor="start" fill="#000" >0.25</text>
<text x="1190.9" y="1053.8" font-size="20.8" text-anchor="start" fill="#000" >0.5</text>
<circle cx="877.0" cy="774.6" r="5.0" fill="#00BA38"/>
<circle cx="886.6" cy="787.6" r="5.0" fill="#B79F00"/>
<circle cx="907.2" cy="838.3" r="5.0" fill="#F8766D"/>
<circle cx="1221.3" cy="815.7" r="5.0" fill="#00BFC4"/>
<circle cx="1174.8" cy="859.9" r="5.0" fill="#619CFF"/>
<circle cx="1206.6" cy="856.1" r="5.0" fill="#00BFC4"/>
<circle cx="1190.2" cy="886.9" r="5.0" fill="#00BFC4"/>
<circle cx="1171.7" cy="899.9" r="5.0" fill="#00BFC4"/>
<circle cx="1069.7" cy="901.3" r="5.0" fill="#F8766D"/>
<circle cx="1086.8" cy="897.2" r="5.0" fill="#B79F00"/>
<circle cx="919.8" cy="922.8" r="5.0" fill="#F8766D"/>
<circle cx="940.7" cy="929.0" r="5.0" fill="#00BA38"/>
<circle cx="1109.8" cy="935.5" r="5.0" fill="#F564E3"/>
<circle cx="1097.1" cy="944.4" r="5.0" fill="#00BA38"/>
<circle cx="1031.0" cy="948.5" r="5.0" fill="#B79F00"/>
<circle cx="950.0" cy="963.2" r="5.0" fill="#F8766D"/>
<circle cx="1036.2" cy="972.4" r="5.0" fill="#B79F00"/>
<circle cx="1056.0" cy="997.1" r="5.0" fill="#619CFF"/>
<circle cx="1058.4" cy="1001.5" r="5.0" fill="#619CFF"/>
<circle cx="1023.5" cy="1009.4" r="5.0" fill="#00BFC4"/>
<circle cx="1026.9" cy="1006.0" r="5.0" fill="#619CFF"/>
<circle cx="1021.8" cy="1003.3" r="5.0" fill="#F564E3"/>
<circle cx="1011.5" cy="1013.5" r="5.0" fill="#F564E3"/>
<circle cx="1038.2" cy="1013.5" r="5.0" fill="#F564E3"/>
<text x="934.0" y="1096.0" font-size="26.1" text-anchor="start" fill="#000" >Bray-Curtis PC1 (27%)</text>
<text transform="translate(791.5,1029.5) rotate(-90)" font-size="26.1" x="0" y="0">Bray-Curtis PC2 (25%)</text>
<rect x="1297.30" y="763.40" width="159.20" height="262.20" fill="none" stroke="#8a8a8a" stroke-width="1.3"/>
<line x1="1312.20" y1="839.20" x2="1312.20" y2="885.70" stroke="#333" stroke-width="1.3" />
<line x1="1312.20" y1="933.10" x2="1312.20" y2="963.10" stroke="#333" stroke-width="1.3" />
<rect x="1306.70" y="885.70" width="11.00" height="47.40" fill="#FA9F99" stroke="#333" stroke-width="1.1"/>
<line x1="1306.70" y1="912.30" x2="1317.70" y2="912.30" stroke="#222" stroke-width="1.8" />
<line x1="1338.00" y1="788.40" x2="1338.00" y2="869.90" stroke="#333" stroke-width="1.3" />
<line x1="1338.00" y1="954.40" x2="1338.00" y2="984.80" stroke="#333" stroke-width="1.3" />
<rect x="1332.50" y="869.90" width="11.00" height="84.50" fill="#CDBC4D" stroke="#333" stroke-width="1.1"/>
<line x1="1332.50" y1="922.80" x2="1343.50" y2="922.80" stroke="#222" stroke-width="1.8" />
<line x1="1363.90" y1="775.40" x2="1363.90" y2="852.20" stroke="#333" stroke-width="1.3" />
<line x1="1363.90" y1="937.10" x2="1363.90" y2="944.30" stroke="#333" stroke-width="1.3" />
<rect x="1358.40" y="852.20" width="11.00" height="84.90" fill="#4DCF74" stroke="#333" stroke-width="1.1"/>
<line x1="1358.40" y1="929.40" x2="1369.40" y2="929.40" stroke="#222" stroke-width="1.8" />
<line x1="1389.80" y1="816.50" x2="1389.80" y2="856.30" stroke="#333" stroke-width="1.3" />
<rect x="1384.30" y="856.30" width="11.00" height="44.00" fill="#4DD2D6" stroke="#333" stroke-width="1.1"/>
<line x1="1384.30" y1="887.30" x2="1395.30" y2="887.30" stroke="#222" stroke-width="1.8" />
<circle cx="1389.80" cy="987.60" r="2.6" fill="#6b6b6b"/>
<line x1="1415.70" y1="1002.10" x2="1415.70" y2="1005.80" stroke="#333" stroke-width="1.3" />
<rect x="1410.20" y="963.10" width="11.00" height="39.00" fill="#90BAFF" stroke="#333" stroke-width="1.1"/>
<line x1="1410.20" y1="999.00" x2="1421.20" y2="999.00" stroke="#222" stroke-width="1.8" />
<circle cx="1415.70" cy="859.90" r="2.6" fill="#6b6b6b"/>
<rect x="1435.90" y="986.40" width="11.00" height="26.90" fill="#F893EC" stroke="#333" stroke-width="1.1"/>
<line x1="1435.90" y1="1008.30" x2="1446.90" y2="1008.30" stroke="#222" stroke-width="1.8" />
<circle cx="1441.40" cy="935.50" r="2.6" fill="#6b6b6b"/>
<rect x="126.00" y="1316.60" width="20.00" height="565.44" fill="#7FC97F" />
<rect x="126.00" y="1882.04" width="20.00" height="295.63" fill="#BEAED4" />
<rect x="126.00" y="2177.67" width="20.00" height="5.47" fill="#FDC086" />
<rect x="126.00" y="2183.14" width="20.00" height="5.94" fill="#FFFF99" />
<rect x="126.00" y="2189.07" width="20.00" height="41.65" fill="#386CB0" />
<rect x="126.00" y="2230.73" width="20.00" height="28.27" fill="#F0027F" />
<rect x="146.00" y="1316.60" width="2.07" height="942.40" fill="#f4f8f2" />
<rect x="148.07" y="1316.60" width="20.00" height="622.93" fill="#7FC97F" />
<rect x="148.07" y="1939.53" width="20.00" height="286.11" fill="#BEAED4" />
<rect x="148.07" y="2225.64" width="20.00" height="5.75" fill="#FDC086" />
<rect x="148.07" y="2231.39" width="20.00" height="8.76" fill="#FFFF99" />
<rect x="148.07" y="2240.15" width="20.00" height="4.81" fill="#386CB0" />
<rect x="148.07" y="2244.96" width="20.00" height="14.04" fill="#F0027F" />
<rect x="168.07" y="1316.60" width="2.07" height="942.40" fill="#f4f8f2" />
<rect x="170.14" y="1316.60" width="20.00" height="627.64" fill="#7FC97F" />
<rect x="170.14" y="1944.24" width="20.00" height="256.90" fill="#BEAED4" />
<rect x="170.14" y="2201.14" width="20.00" height="8.10" fill="#FDC086" />
<rect x="170.14" y="2209.24" width="20.00" height="6.79" fill="#FFFF99" />
<rect x="170.14" y="2216.03" width="20.00" height="18.47" fill="#386CB0" />
<rect x="170.14" y="2234.50" width="20.00" height="24.50" fill="#F0027F" />
<rect x="190.14" y="1316.60" width="2.07" height="942.40" fill="#f4f8f2" />
<rect x="192.21" y="1316.60" width="20.00" height="716.22" fill="#7FC97F" />
<rect x="192.21" y="2032.82" width="20.00" height="184.80" fill="#BEAED4" />
<rect x="192.21" y="2217.63" width="20.00" height="1.79" fill="#FDC086" />
<rect x="192.21" y="2219.42" width="20.00" height="2.54" fill="#FFFF99" />
<rect x="192.21" y="2221.96" width="20.00" height="1.70" fill="#386CB0" />
<rect x="192.21" y="2223.66" width="20.00" height="35.34" fill="#F0027F" />
<rect x="212.21" y="1316.60" width="2.07" height="942.40" fill="#f4f8f2" />
<rect x="214.28" y="1316.60" width="20.00" height="451.41" fill="#7FC97F" />
<rect x="214.28" y="1768.01" width="20.00" height="315.70" fill="#BEAED4" />
<rect x="214.28" y="2083.71" width="20.00" height="24.50" fill="#FFFF99" />
<rect x="214.28" y="2108.22" width="20.00" height="141.55" fill="#386CB0" />
<rect x="214.28" y="2249.76" width="20.00" height="9.24" fill="#F0027F" />
<rect x="234.28" y="1316.60" width="2.07" height="942.40" fill="#f4f8f2" />
<rect x="236.35" y="1316.60" width="20.00" height="503.24" fill="#7FC97F" />
<rect x="236.35" y="1819.84" width="20.00" height="377.62" fill="#BEAED4" />
<rect x="236.35" y="2197.46" width="20.00" height="3.02" fill="#FDC086" />
<rect x="236.35" y="2200.48" width="20.00" height="29.12" fill="#FFFF99" />
<rect x="236.35" y="2229.60" width="20.00" height="12.82" fill="#386CB0" />
<rect x="236.35" y="2242.41" width="20.00" height="16.59" fill="#F0027F" />
<rect x="256.35" y="1316.60" width="2.07" height="942.40" fill="#f4f8f2" />
<rect x="258.42" y="1316.60" width="20.00" height="636.12" fill="#7FC97F" />
<rect x="258.42" y="1952.72" width="20.00" height="140.42" fill="#BEAED4" />
<rect x="258.42" y="2093.14" width="20.00" height="3.77" fill="#FDC086" />
<rect x="258.42" y="2096.91" width="20.00" height="12.25" fill="#FFFF99" />
<rect x="258.42" y="2109.16" width="20.00" height="84.82" fill="#386CB0" />
<rect x="258.42" y="2193.97" width="20.00" height="65.03" fill="#F0027F" />
<rect x="278.42" y="1316.60" width="2.07" height="942.40" fill="#f4f8f2" />
<rect x="280.49" y="1316.60" width="20.00" height="876.43" fill="#7FC97F" />
<rect x="280.49" y="2193.03" width="20.00" height="13.66" fill="#BEAED4" />
<rect x="280.49" y="2206.70" width="20.00" height="6.50" fill="#FDC086" />
<rect x="280.49" y="2213.20" width="20.00" height="37.32" fill="#FFFF99" />
<rect x="280.49" y="2250.52" width="20.00" height="8.48" fill="#F0027F" />
<rect x="300.49" y="1316.60" width="2.07" height="942.40" fill="#f4f8f2" />
<rect x="302.56" y="1316.60" width="20.00" height="537.17" fill="#7FC97F" />
<rect x="302.56" y="1853.77" width="20.00" height="375.17" fill="#BEAED4" />
<rect x="302.56" y="2228.94" width="20.00" height="3.96" fill="#FDC086" />
<rect x="302.56" y="2232.90" width="20.00" height="5.09" fill="#FFFF99" />
<rect x="302.56" y="2237.98" width="20.00" height="2.17" fill="#386CB0" />
<rect x="302.56" y="2240.15" width="20.00" height="17.43" fill="#F0027F" />
<rect x="302.56" y="2257.59" width="20.00" height="1.41" fill="#BF5B17" />
<rect x="322.56" y="1316.60" width="2.07" height="942.40" fill="#f4f8f2" />
<rect x="324.63" y="1316.60" width="20.00" height="558.84" fill="#7FC97F" />
<rect x="324.63" y="1875.44" width="20.00" height="353.78" fill="#BEAED4" />
<rect x="324.63" y="2229.22" width="20.00" height="3.11" fill="#FDC086" />
<rect x="324.63" y="2232.33" width="20.00" height="17.06" fill="#FFFF99" />
<rect x="324.63" y="2249.39" width="20.00" height="9.61" fill="#F0027F" />
<rect x="344.63" y="1316.60" width="2.07" height="942.40" fill="#f4f8f2" />
<rect x="346.70" y="1316.60" width="20.00" height="611.62" fill="#7FC97F" />
<rect x="346.70" y="1928.22" width="20.00" height="311.93" fill="#BEAED4" />
<rect x="346.70" y="2240.15" width="20.00" height="3.02" fill="#FDC086" />
<rect x="346.70" y="2243.17" width="20.00" height="4.05" fill="#FFFF99" />
<rect x="346.70" y="2247.22" width="20.00" height="11.78" fill="#F0027F" />
<rect x="366.70" y="1316.60" width="2.07" height="942.40" fill="#f4f8f2" />
<rect x="368.77" y="1316.60" width="20.00" height="684.18" fill="#7FC97F" />
<rect x="368.77" y="2000.78" width="20.00" height="237.67" fill="#BEAED4" />
<rect x="368.77" y="2238.46" width="20.00" height="4.34" fill="#FDC086" />
<rect x="368.77" y="2242.79" width="20.00" height="3.96" fill="#FFFF99" />
<rect x="368.77" y="2246.75" width="20.00" height="12.25" fill="#F0027F" />
<rect x="388.77" y="1316.60" width="2.07" height="942.40" fill="#f4f8f2" />
<rect x="390.84" y="1316.60" width="20.00" height="417.48" fill="#7FC97F" />
<rect x="390.84" y="1734.08" width="20.00" height="489.58" fill="#BEAED4" />
<rect x="390.84" y="2223.66" width="20.00" height="8.86" fill="#FDC086" />
<rect x="390.84" y="2232.52" width="20.00" height="16.87" fill="#FFFF99" />
<rect x="390.84" y="2249.39" width="20.00" height="8.10" fill="#F0027F" />
<rect x="390.84" y="2257.49" width="20.00" height="1.51" fill="#BF5B17" />
<rect x="410.84" y="1316.60" width="2.07" height="942.40" fill="#f4f8f2" />
<rect x="412.91" y="1316.60" width="20.00" height="453.29" fill="#7FC97F" />
<rect x="412.91" y="1769.89" width="20.00" height="460.83" fill="#BEAED4" />
<rect x="412.91" y="2230.73" width="20.00" height="5.94" fill="#FDC086" />
<rect x="412.91" y="2236.67" width="20.00" height="4.62" fill="#FFFF99" />
<rect x="412.91" y="2241.28" width="20.00" height="12.44" fill="#F0027F" />
<rect x="412.91" y="2253.72" width="20.00" height="5.28" fill="#BF5B17" />
<rect x="432.91" y="1316.60" width="2.07" height="942.40" fill="#f4f8f2" />
<rect x="434.98" y="1316.60" width="20.00" height="469.32" fill="#7FC97F" />
<rect x="434.98" y="1785.92" width="20.00" height="431.05" fill="#BEAED4" />
<rect x="434.98" y="2216.97" width="20.00" height="10.55" fill="#FDC086" />
<rect x="434.98" y="2227.52" width="20.00" height="20.73" fill="#FFFF99" />
<rect x="434.98" y="2248.26" width="20.00" height="10.74" fill="#F0027F" />
<rect x="454.98" y="1316.60" width="2.07" height="942.40" fill="#f4f8f2" />
<rect x="457.05" y="1316.60" width="20.00" height="501.36" fill="#7FC97F" />
<rect x="457.05" y="1817.96" width="20.00" height="413.81" fill="#BEAED4" />
<rect x="457.05" y="2231.76" width="20.00" height="5.56" fill="#FDC086" />
<rect x="457.05" y="2237.32" width="20.00" height="12.06" fill="#FFFF99" />
<rect x="457.05" y="2249.39" width="20.00" height="9.61" fill="#F0027F" />
<rect x="477.05" y="1316.60" width="2.07" height="942.40" fill="#f4f8f2" />
<rect x="479.12" y="1316.60" width="20.00" height="612.56" fill="#7FC97F" />
<rect x="479.12" y="1929.16" width="20.00" height="299.78" fill="#BEAED4" />
<rect x="479.12" y="2228.94" width="20.00" height="8.39" fill="#FDC086" />
<rect x="479.12" y="2237.32" width="20.00" height="10.46" fill="#FFFF99" />
<rect x="479.12" y="2247.79" width="20.00" height="9.80" fill="#F0027F" />
<rect x="479.12" y="2257.59" width="20.00" height="1.41" fill="#BF5B17" />
<rect x="499.12" y="1316.60" width="2.07" height="942.40" fill="#f4f8f2" />
<rect x="501.19" y="1316.60" width="20.00" height="679.47" fill="#7FC97F" />
<rect x="501.19" y="1996.07" width="20.00" height="222.22" fill="#BEAED4" />
<rect x="501.19" y="2218.29" width="20.00" height="12.44" fill="#FDC086" />
<rect x="501.19" y="2230.73" width="20.00" height="13.19" fill="#FFFF99" />
<rect x="501.19" y="2243.92" width="20.00" height="15.08" fill="#F0027F" />
<rect x="521.19" y="1316.60" width="2.07" height="942.40" fill="#f4f8f2" />
<rect x="523.26" y="1316.60" width="20.00" height="504.18" fill="#7FC97F" />
<rect x="523.26" y="1820.78" width="20.00" height="394.02" fill="#BEAED4" />
<rect x="523.26" y="2214.80" width="20.00" height="8.86" fill="#FDC086" />
<rect x="523.26" y="2223.66" width="20.00" height="16.49" fill="#FFFF99" />
<rect x="523.26" y="2240.15" width="20.00" height="1.51" fill="#386CB0" />
<rect x="523.26" y="2241.66" width="20.00" height="17.34" fill="#F0027F" />
<rect x="543.26" y="1316.60" width="2.07" height="942.40" fill="#f4f8f2" />
<rect x="545.33" y="1316.60" width="20.00" height="509.84" fill="#7FC97F" />
<rect x="545.33" y="1826.44" width="20.00" height="389.59" fill="#BEAED4" />
<rect x="545.33" y="2216.03" width="20.00" height="5.47" fill="#FDC086" />
<rect x="545.33" y="2221.49" width="20.00" height="4.90" fill="#FFFF99" />
<rect x="545.33" y="2226.39" width="20.00" height="3.20" fill="#386CB0" />
<rect x="545.33" y="2229.60" width="20.00" height="25.92" fill="#F0027F" />
<rect x="545.33" y="2255.51" width="20.00" height="3.49" fill="#BF5B17" />
<rect x="565.33" y="1316.60" width="2.07" height="942.40" fill="#f4f8f2" />
<rect x="567.40" y="1316.60" width="20.00" height="519.26" fill="#7FC97F" />
<rect x="567.40" y="1835.86" width="20.00" height="391.19" fill="#BEAED4" />
<rect x="567.40" y="2227.05" width="20.00" height="5.28" fill="#FDC086" />
<rect x="567.40" y="2232.33" width="20.00" height="20.26" fill="#FFFF99" />
<rect x="567.40" y="2252.59" width="20.00" height="2.17" fill="#386CB0" />
<rect x="567.40" y="2254.76" width="20.00" height="4.24" fill="#F0027F" />
<rect x="587.40" y="1316.60" width="2.07" height="942.40" fill="#f4f8f2" />
<rect x="589.47" y="1316.60" width="20.00" height="563.56" fill="#7FC97F" />
<rect x="589.47" y="1880.16" width="20.00" height="347.75" fill="#BEAED4" />
<rect x="589.47" y="2227.90" width="20.00" height="5.65" fill="#FDC086" />
<rect x="589.47" y="2233.56" width="20.00" height="16.40" fill="#FFFF99" />
<rect x="589.47" y="2249.95" width="20.00" height="5.37" fill="#386CB0" />
<rect x="589.47" y="2255.32" width="20.00" height="3.68" fill="#F0027F" />
<rect x="609.47" y="1316.60" width="2.07" height="942.40" fill="#f4f8f2" />
<rect x="611.54" y="1316.60" width="20.00" height="405.23" fill="#7FC97F" />
<rect x="611.54" y="1721.83" width="20.00" height="449.15" fill="#BEAED4" />
<rect x="611.54" y="2170.98" width="20.00" height="31.29" fill="#FDC086" />
<rect x="611.54" y="2202.27" width="20.00" height="34.59" fill="#FFFF99" />
<rect x="611.54" y="2236.85" width="20.00" height="1.51" fill="#386CB0" />
<rect x="611.54" y="2238.36" width="20.00" height="20.64" fill="#F0027F" />
<rect x="631.54" y="1316.60" width="2.07" height="942.40" fill="#f4f8f2" />
<rect x="633.61" y="1316.60" width="20.00" height="440.10" fill="#7FC97F" />
<rect x="633.61" y="1756.70" width="20.00" height="446.70" fill="#BEAED4" />
<rect x="633.61" y="2203.40" width="20.00" height="14.89" fill="#FDC086" />
<rect x="633.61" y="2218.29" width="20.00" height="29.50" fill="#FFFF99" />
<rect x="633.61" y="2247.79" width="20.00" height="11.21" fill="#F0027F" />
<rect x="653.61" y="1316.60" width="2.07" height="942.40" fill="#f4f8f2" />
<rect x="655.68" y="1316.60" width="20.00" height="534.34" fill="#7FC97F" />
<rect x="655.68" y="1850.94" width="20.00" height="355.00" fill="#BEAED4" />
<rect x="655.68" y="2205.94" width="20.00" height="9.05" fill="#FDC086" />
<rect x="655.68" y="2214.99" width="20.00" height="40.52" fill="#FFFF99" />
<rect x="655.68" y="2255.51" width="20.00" height="3.49" fill="#F0027F" />
<rect x="675.68" y="1316.60" width="2.07" height="942.40" fill="#f4f8f2" />
<rect x="677.75" y="1316.60" width="20.00" height="599.37" fill="#7FC97F" />
<rect x="677.75" y="1915.97" width="20.00" height="301.66" fill="#BEAED4" />
<rect x="677.75" y="2217.63" width="20.00" height="6.50" fill="#FDC086" />
<rect x="677.75" y="2224.13" width="20.00" height="25.82" fill="#FFFF99" />
<rect x="677.75" y="2249.95" width="20.00" height="9.05" fill="#F0027F" />
<line x1="125.30" y1="1316.00" x2="125.30" y2="2260.50" stroke="#1e1e1e" stroke-width="2.6" />
<line x1="111.00" y1="2259.00" x2="125.00" y2="2259.00" stroke="#1e1e1e" stroke-width="2.2" />
<text x="99.5" y="2271.6" font-size="31.6" text-anchor="end" fill="#000" >0</text>
<line x1="111.00" y1="2164.76" x2="125.00" y2="2164.76" stroke="#1e1e1e" stroke-width="2.2" />
<text x="99.5" y="2177.8" font-size="31.6" text-anchor="end" fill="#000" >10</text>
<line x1="111.00" y1="2070.52" x2="125.00" y2="2070.52" stroke="#1e1e1e" stroke-width="2.2" />
<text x="99.5" y="2084.1" font-size="31.6" text-anchor="end" fill="#000" >20</text>
<line x1="111.00" y1="1976.28" x2="125.00" y2="1976.28" stroke="#1e1e1e" stroke-width="2.2" />
<text x="99.5" y="1990.3" font-size="31.6" text-anchor="end" fill="#000" >30</text>
<line x1="111.00" y1="1882.04" x2="125.00" y2="1882.04" stroke="#1e1e1e" stroke-width="2.2" />
<text x="99.5" y="1896.6" font-size="31.6" text-anchor="end" fill="#000" >40</text>
<line x1="111.00" y1="1787.80" x2="125.00" y2="1787.80" stroke="#1e1e1e" stroke-width="2.2" />
<text x="99.5" y="1802.8" font-size="31.6" text-anchor="end" fill="#000" >50</text>
<line x1="111.00" y1="1693.56" x2="125.00" y2="1693.56" stroke="#1e1e1e" stroke-width="2.2" />
<text x="99.5" y="1709.1" font-size="31.6" text-anchor="end" fill="#000" >60</text>
<line x1="111.00" y1="1599.32" x2="125.00" y2="1599.32" stroke="#1e1e1e" stroke-width="2.2" />
<text x="99.5" y="1615.3" font-size="31.6" text-anchor="end" fill="#000" >70</text>
<line x1="111.00" y1="1505.08" x2="125.00" y2="1505.08" stroke="#1e1e1e" stroke-width="2.2" />
<text x="99.5" y="1521.6" font-size="31.6" text-anchor="end" fill="#000" >80</text>
<line x1="111.00" y1="1410.84" x2="125.00" y2="1410.84" stroke="#1e1e1e" stroke-width="2.2" />
<text x="99.5" y="1427.8" font-size="31.6" text-anchor="end" fill="#000" >90</text>
<line x1="111.00" y1="1316.60" x2="125.00" y2="1316.60" stroke="#1e1e1e" stroke-width="2.2" />
<text x="99.5" y="1334.1" font-size="31.6" text-anchor="end" fill="#000" >100</text>
<line x1="111.00" y1="2259.80" x2="699.00" y2="2259.80" stroke="#1a1a1a" stroke-width="2.0" />
<line x1="136.00" y1="2259.00" x2="136.00" y2="2262.50" stroke="#333" stroke-width="1.2" />
<line x1="158.07" y1="2259.00" x2="158.07" y2="2262.50" stroke="#333" stroke-width="1.2" />
<line x1="180.14" y1="2259.00" x2="180.14" y2="2262.50" stroke="#333" stroke-width="1.2" />
<line x1="202.21" y1="2259.00" x2="202.21" y2="2262.50" stroke="#333" stroke-width="1.2" />
<line x1="224.28" y1="2259.00" x2="224.28" y2="2262.50" stroke="#333" stroke-width="1.2" />
<line x1="246.35" y1="2259.00" x2="246.35" y2="2262.50" stroke="#333" stroke-width="1.2" />
<line x1="268.42" y1="2259.00" x2="268.42" y2="2262.50" stroke="#333" stroke-width="1.2" />
<line x1="290.49" y1="2259.00" x2="290.49" y2="2262.50" stroke="#333" stroke-width="1.2" />
<line x1="312.56" y1="2259.00" x2="312.56" y2="2262.50" stroke="#333" stroke-width="1.2" />
<line x1="334.63" y1="2259.00" x2="334.63" y2="2262.50" stroke="#333" stroke-width="1.2" />
<line x1="356.70" y1="2259.00" x2="356.70" y2="2262.50" stroke="#333" stroke-width="1.2" />
<line x1="378.77" y1="2259.00" x2="378.77" y2="2262.50" stroke="#333" stroke-width="1.2" />
<line x1="400.84" y1="2259.00" x2="400.84" y2="2262.50" stroke="#333" stroke-width="1.2" />
<line x1="422.91" y1="2259.00" x2="422.91" y2="2262.50" stroke="#333" stroke-width="1.2" />
<line x1="444.98" y1="2259.00" x2="444.98" y2="2262.50" stroke="#333" stroke-width="1.2" />
<line x1="467.05" y1="2259.00" x2="467.05" y2="2262.50" stroke="#333" stroke-width="1.2" />
<line x1="489.12" y1="2259.00" x2="489.12" y2="2262.50" stroke="#333" stroke-width="1.2" />
<line x1="511.19" y1="2259.00" x2="511.19" y2="2262.50" stroke="#333" stroke-width="1.2" />
<line x1="533.26" y1="2259.00" x2="533.26" y2="2262.50" stroke="#333" stroke-width="1.2" />
<line x1="555.33" y1="2259.00" x2="555.33" y2="2262.50" stroke="#333" stroke-width="1.2" />
<line x1="577.40" y1="2259.00" x2="577.40" y2="2262.50" stroke="#333" stroke-width="1.2" />
<line x1="599.47" y1="2259.00" x2="599.47" y2="2262.50" stroke="#333" stroke-width="1.2" />
<line x1="621.54" y1="2259.00" x2="621.54" y2="2262.50" stroke="#333" stroke-width="1.2" />
<line x1="643.61" y1="2259.00" x2="643.61" y2="2262.50" stroke="#333" stroke-width="1.2" />
<line x1="665.68" y1="2259.00" x2="665.68" y2="2262.50" stroke="#333" stroke-width="1.2" />
<line x1="687.75" y1="2259.00" x2="687.75" y2="2262.50" stroke="#333" stroke-width="1.2" />
<text x="2.5" y="1270.0" font-size="62" text-anchor="start" fill="#000" >c</text>
<text x="234.4" y="1280.8" font-size="31.6" text-anchor="start" fill="#000" >Taxonomic composition</text>
<text transform="translate(37,1974) rotate(-90)" font-size="31.6" x="0" y="0">Relative frequency (%)</text>
<line x1="131.80" y1="2267.10" x2="219.30" y2="2267.10" stroke="#333" stroke-width="1.6" />
<line x1="224.20" y1="2267.10" x2="312.50" y2="2267.10" stroke="#333" stroke-width="1.6" />
<line x1="320.80" y1="2267.10" x2="382.50" y2="2267.10" stroke="#333" stroke-width="1.6" />
<line x1="397.00" y1="2267.10" x2="500.00" y2="2267.10" stroke="#333" stroke-width="1.6" />
<line x1="510.00" y1="2267.10" x2="598.50" y2="2267.10" stroke="#333" stroke-width="1.6" />
<line x1="610.00" y1="2267.10" x2="698.50" y2="2267.10" stroke="#333" stroke-width="1.6" />
<text x="175.0" y="2298.6" font-size="31.6" text-anchor="middle" fill="#000" >0</text>
<text x="267.4" y="2298.6" font-size="31.6" text-anchor="middle" fill="#000" >3</text>
<text x="350.5" y="2298.6" font-size="31.6" text-anchor="middle" fill="#000" >7</text>
<text x="449.0" y="2298.6" font-size="31.6" text-anchor="middle" fill="#000" >0</text>
<text x="553.0" y="2298.6" font-size="31.6" text-anchor="middle" fill="#000" >3</text>
<text x="653.0" y="2298.6" font-size="31.6" text-anchor="middle" fill="#000" >7</text>
<line x1="131.50" y1="2305.30" x2="382.50" y2="2305.30" stroke="#333" stroke-width="1.6" />
<line x1="400.00" y1="2305.30" x2="695.00" y2="2305.30" stroke="#333" stroke-width="1.6" />
<text x="23.0" y="2293.7" font-size="31.6" text-anchor="start" fill="#000" >dpi</text>
<text x="201.7" y="2341.8" font-size="31.5" text-anchor="start" font-style="italic" fill="#000" >Tph1</text>
<text x="273.6" y="2332.0" font-size="20" text-anchor="start" fill="#000" >+/+</text>
<text x="487.0" y="2341.8" font-size="31.5" text-anchor="start" font-style="italic" fill="#000" >Tph1</text>
<text x="558.9" y="2332.0" font-size="20" text-anchor="start" fill="#000" >–/–</text>
<rect x="133.50" y="2376.00" width="22.00" height="22.00" fill="#7FC97F" stroke="#222" stroke-width="1.2"/>
<text x="169.5" y="2398.5" font-size="31.4" text-anchor="start" fill="#000" >Firmicutes</text>
<rect x="133.50" y="2409.30" width="22.00" height="22.00" fill="#BEAED4" stroke="#222" stroke-width="1.2"/>
<text x="169.5" y="2431.8" font-size="31.4" text-anchor="start" fill="#000" >Bacteroidota</text>
<rect x="133.50" y="2440.50" width="22.00" height="22.00" fill="#FDC086" stroke="#222" stroke-width="1.2"/>
<text x="169.5" y="2463.0" font-size="31.4" text-anchor="start" fill="#000" >Actinobacteriota</text>
<rect x="133.50" y="2472.50" width="22.00" height="22.00" fill="#FFFF99" stroke="#222" stroke-width="1.2"/>
<text x="169.5" y="2495.0" font-size="31.4" text-anchor="start" fill="#000" >Proteobacteria</text>
<rect x="405.00" y="2380.00" width="22.00" height="22.00" fill="#386CB0" stroke="#222" stroke-width="1.2"/>
<text x="439.0" y="2402.5" font-size="31.4" text-anchor="start" fill="#000" >Verrucomicrobia</text>
<rect x="405.00" y="2411.30" width="22.00" height="22.00" fill="#F0027F" stroke="#222" stroke-width="1.2"/>
<text x="439.0" y="2433.8" font-size="31.4" text-anchor="start" fill="#000" >Desulfobacterota</text>
<rect x="405.00" y="2442.80" width="22.00" height="22.00" fill="#BF5B17" stroke="#222" stroke-width="1.2"/>
<text x="439.0" y="2465.3" font-size="31.4" text-anchor="start" fill="#000" >Campilobacterota</text>
<text x="729.2" y="1270.0" font-size="62" text-anchor="start" fill="#000" >d</text>
<rect x="1269.6" y="1295.2" width="23" height="22.6" fill="#FDE3E1" stroke="#F8766D" stroke-opacity="0.8" stroke-width="1.3" stroke-dasharray="3.8 2.4"/>
<circle cx="1281.1" cy="1306.5" r="6.6" fill="#F8766D" opacity="0.8"/>
<text x="1308.9" y="1314.4" font-size="25.8" text-anchor="start" font-style="italic" fill="#000" >Tph1</text>
<text x="1366.7" y="1306.4" font-size="17.6" text-anchor="start" fill="#000" >+/+</text>
<text x="1399.2" y="1314.4" font-size="25.8" text-anchor="start" fill="#000" >0 dpi</text>
<rect x="1269.6" y="1324.7" width="23" height="22.6" fill="#F1EBCC" stroke="#B79F00" stroke-opacity="0.8" stroke-width="1.3" stroke-dasharray="3.8 2.4"/>
<circle cx="1281.1" cy="1336.0" r="6.6" fill="#B79F00" opacity="0.8"/>
<text x="1308.9" y="1343.9" font-size="25.8" text-anchor="start" font-style="italic" fill="#000" >Tph1</text>
<text x="1366.7" y="1335.9" font-size="17.6" text-anchor="start" fill="#000" >+/+</text>
<text x="1399.2" y="1343.9" font-size="25.8" text-anchor="start" fill="#000" >3 dpi</text>
<rect x="1269.6" y="1352.2" width="23" height="22.6" fill="#CCF1D7" stroke="#00BA38" stroke-opacity="0.8" stroke-width="1.3" stroke-dasharray="3.8 2.4"/>
<circle cx="1281.1" cy="1363.5" r="6.6" fill="#00BA38" opacity="0.8"/>
<text x="1308.9" y="1371.4" font-size="25.8" text-anchor="start" font-style="italic" fill="#000" >Tph1</text>
<text x="1366.7" y="1363.4" font-size="17.6" text-anchor="start" fill="#000" >+/+</text>
<text x="1399.2" y="1371.4" font-size="25.8" text-anchor="start" fill="#000" >7 dpi</text>
<rect x="1269.6" y="1378.9" width="23" height="22.6" fill="#CCF2F3" stroke="#00BFC4" stroke-opacity="0.8" stroke-width="1.3" stroke-dasharray="3.8 2.4"/>
<circle cx="1281.1" cy="1390.2" r="6.6" fill="#00BFC4" opacity="0.8"/>
<text x="1308.9" y="1398.1" font-size="25.8" text-anchor="start" font-style="italic" fill="#000" >Tph1</text>
<text x="1367.3" y="1390.1" font-size="17.6" text-anchor="start" fill="#000" >–/–</text>
<text x="1395.9" y="1398.1" font-size="25.8" text-anchor="start" fill="#000" >0 dpi</text>
<rect x="1269.6" y="1407.2" width="23" height="22.6" fill="#DFEBFF" stroke="#619CFF" stroke-opacity="0.8" stroke-width="1.3" stroke-dasharray="3.8 2.4"/>
<circle cx="1281.1" cy="1418.5" r="6.6" fill="#619CFF" opacity="0.8"/>
<text x="1308.9" y="1426.4" font-size="25.8" text-anchor="start" font-style="italic" fill="#000" >Tph1</text>
<text x="1367.3" y="1418.4" font-size="17.6" text-anchor="start" fill="#000" >–/–</text>
<text x="1399.2" y="1426.4" font-size="25.8" text-anchor="start" fill="#000" >3 dpi</text>
<rect x="1269.6" y="1436.5" width="23" height="22.6" fill="#FDE0F9" stroke="#F564E3" stroke-opacity="0.8" stroke-width="1.3" stroke-dasharray="3.8 2.4"/>
<circle cx="1281.1" cy="1447.8" r="6.6" fill="#F564E3" opacity="0.8"/>
<text x="1308.9" y="1455.7" font-size="25.8" text-anchor="start" font-style="italic" fill="#000" >Tph1</text>
<text x="1367.3" y="1447.7" font-size="17.6" text-anchor="start" fill="#000" >–/–</text>
<text x="1399.2" y="1455.7" font-size="25.8" text-anchor="start" fill="#000" >7 dpi</text>
<rect x="858.80" y="1324.50" width="377.80" height="106.00" fill="none" stroke="#8a8a8a" stroke-width="1.3"/>
<line x1="1201.30" y1="1334.90" x2="1204.60" y2="1334.90" stroke="#333" stroke-width="1.3" />
<rect x="1204.60" y="1331.20" width="6.30" height="7.40" fill="#F893EC" stroke="#333" stroke-width="1.1"/>
<line x1="1206.00" y1="1331.20" x2="1206.00" y2="1338.60" stroke="#222" stroke-width="1.8" />
<circle cx="1219.00" cy="1334.90" r="2.6" fill="#6b6b6b"/>
<line x1="1180.70" y1="1351.90" x2="1187.30" y2="1351.90" stroke="#333" stroke-width="1.3" />
<line x1="1198.50" y1="1351.90" x2="1203.70" y2="1351.90" stroke="#333" stroke-width="1.3" />
<rect x="1187.30" y="1348.20" width="11.20" height="7.40" fill="#90BAFF" stroke="#333" stroke-width="1.1"/>
<line x1="1192.80" y1="1348.20" x2="1192.80" y2="1355.60" stroke="#222" stroke-width="1.8" />
<line x1="1184.60" y1="1369.10" x2="1192.20" y2="1369.10" stroke="#333" stroke-width="1.3" />
<line x1="1203.20" y1="1369.10" x2="1211.40" y2="1369.10" stroke="#333" stroke-width="1.3" />
<rect x="1192.20" y="1365.40" width="11.00" height="7.40" fill="#4DD2D6" stroke="#333" stroke-width="1.1"/>
<line x1="1198.30" y1="1365.40" x2="1198.30" y2="1372.80" stroke="#222" stroke-width="1.8" />
<line x1="891.10" y1="1386.70" x2="892.40" y2="1386.70" stroke="#333" stroke-width="1.3" />
<rect x="892.40" y="1383.00" width="3.60" height="7.40" fill="#4DCF74" stroke="#333" stroke-width="1.1"/>
<line x1="894.50" y1="1383.00" x2="894.50" y2="1390.40" stroke="#222" stroke-width="1.8" />
<line x1="879.60" y1="1403.60" x2="896.50" y2="1403.60" stroke="#333" stroke-width="1.3" />
<line x1="910.80" y1="1403.60" x2="915.70" y2="1403.60" stroke="#333" stroke-width="1.3" />
<rect x="896.50" y="1399.90" width="14.30" height="7.40" fill="#CDBC4D" stroke="#333" stroke-width="1.1"/>
<line x1="906.10" y1="1399.90" x2="906.10" y2="1407.30" stroke="#222" stroke-width="1.8" />
<line x1="893.30" y1="1420.90" x2="901.50" y2="1420.90" stroke="#333" stroke-width="1.3" />
<rect x="876.00" y="1417.20" width="17.30" height="7.40" fill="#FA9F99" stroke="#333" stroke-width="1.1"/>
<line x1="882.90" y1="1417.20" x2="882.90" y2="1424.60" stroke="#222" stroke-width="1.8" />
<rect x="858.90" y="1480.50" width="377.50" height="261.20" fill="none" stroke="#8a8a8a" stroke-width="1.3"/>
<line x1="858.90" y1="1479.90" x2="858.90" y2="1742.30" stroke="#222" stroke-width="1.6" />
<line x1="858.30" y1="1741.70" x2="1237.00" y2="1741.70" stroke="#222" stroke-width="1.6" />
<line x1="854.40" y1="1534.10" x2="858.90" y2="1534.10" stroke="#222" stroke-width="1.4" />
<line x1="854.40" y1="1614.20" x2="858.90" y2="1614.20" stroke="#222" stroke-width="1.4" />
<line x1="854.40" y1="1694.50" x2="858.90" y2="1694.50" stroke="#222" stroke-width="1.4" />
<text x="844.3" y="1537.7" font-size="20.8" text-anchor="end" fill="#000" >0.2</text>
<text x="844.3" y="1618.0" font-size="20.8" text-anchor="end" fill="#000" >0.0</text>
<text x="844.3" y="1702.0" font-size="20.8" text-anchor="end" fill="#000" >-0.2</text>
<line x1="957.80" y1="1741.70" x2="957.80" y2="1745.70" stroke="#222" stroke-width="1.4" />
<line x1="1058.80" y1="1741.70" x2="1058.80" y2="1745.70" stroke="#222" stroke-width="1.4" />
<line x1="1159.40" y1="1741.70" x2="1159.40" y2="1745.70" stroke="#222" stroke-width="1.4" />
<text x="928.7" y="1767.2" font-size="20.8" text-anchor="start" fill="#000" >-0.2</text>
<text x="1026.0" y="1767.2" font-size="20.8" text-anchor="start" fill="#000" >0.0</text>
<text x="1116.8" y="1767.2" font-size="20.8" text-anchor="start" fill="#000" >0.2</text>
<circle cx="1180.3" cy="1491.8" r="5.0" fill="#619CFF"/>
<circle cx="1203.9" cy="1511.3" r="5.0" fill="#619CFF"/>
<circle cx="1196.3" cy="1544.5" r="5.0" fill="#619CFF"/>
<circle cx="1189.8" cy="1559.6" r="5.0" fill="#619CFF"/>
<circle cx="1207.3" cy="1571.2" r="5.0" fill="#F564E3"/>
<circle cx="1219.3" cy="1581.1" r="5.0" fill="#F564E3"/>
<circle cx="1200.1" cy="1581.5" r="5.0" fill="#00BFC4"/>
<circle cx="1205.6" cy="1590.0" r="5.0" fill="#F564E3"/>
<circle cx="1201.1" cy="1610.6" r="5.0" fill="#F564E3"/>
<circle cx="1184.4" cy="1700.6" r="5.0" fill="#00BFC4"/>
<circle cx="1191.2" cy="1705.7" r="5.0" fill="#00BFC4"/>
<circle cx="1197.0" cy="1702.3" r="5.0" fill="#00BFC4"/>
<circle cx="1203.9" cy="1718.0" r="5.0" fill="#00BFC4"/>
<circle cx="1211.7" cy="1730.4" r="5.0" fill="#00BFC4"/>
<circle cx="902.7" cy="1574.6" r="5.0" fill="#B79F00"/>
<circle cx="915.7" cy="1577.0" r="5.0" fill="#B79F00"/>
<circle cx="908.5" cy="1589.7" r="5.0" fill="#B79F00"/>
<circle cx="879.1" cy="1611.6" r="5.0" fill="#B79F00"/>
<circle cx="889.7" cy="1609.6" r="5.0" fill="#F8766D"/>
<circle cx="901.3" cy="1619.1" r="5.0" fill="#F8766D"/>
<circle cx="876.4" cy="1630.1" r="5.0" fill="#F8766D"/>
<circle cx="875.3" cy="1633.5" r="5.0" fill="#F8766D"/>
<circle cx="890.7" cy="1624.3" r="5.0" fill="#00BA38"/>
<circle cx="895.9" cy="1628.4" r="5.0" fill="#00BA38"/>
<circle cx="894.2" cy="1634.5" r="5.0" fill="#00BA38"/>
<text x="937.6" y="1801.7" font-size="26.1" text-anchor="start" fill="#000" >Jaccard PC1 (40%)</text>
<text transform="translate(792.4,1722.0) rotate(-90)" font-size="26.1" x="0" y="0">Jaccard PC2 (9%)</text>
<rect x="1294.60" y="1480.40" width="159.80" height="261.80" fill="none" stroke="#8a8a8a" stroke-width="1.3"/>
<line x1="1310.00" y1="1610.10" x2="1310.00" y2="1617.10" stroke="#333" stroke-width="1.3" />
<line x1="1310.00" y1="1631.60" x2="1310.00" y2="1633.40" stroke="#333" stroke-width="1.3" />
<rect x="1304.50" y="1617.10" width="11.00" height="14.50" fill="#FA9F99" stroke="#333" stroke-width="1.1"/>
<line x1="1304.50" y1="1624.80" x2="1315.50" y2="1624.80" stroke="#222" stroke-width="1.8" />
<line x1="1335.70" y1="1575.20" x2="1335.70" y2="1576.20" stroke="#333" stroke-width="1.3" />
<line x1="1335.70" y1="1595.40" x2="1335.70" y2="1611.80" stroke="#333" stroke-width="1.3" />
<rect x="1330.20" y="1576.20" width="11.00" height="19.20" fill="#CDBC4D" stroke="#333" stroke-width="1.1"/>
<line x1="1330.20" y1="1583.30" x2="1341.20" y2="1583.30" stroke="#222" stroke-width="1.8" />
<line x1="1361.50" y1="1624.80" x2="1361.50" y2="1627.00" stroke="#333" stroke-width="1.3" />
<line x1="1361.50" y1="1633.40" x2="1361.50" y2="1634.90" stroke="#333" stroke-width="1.3" />
<rect x="1356.00" y="1627.00" width="11.00" height="6.40" fill="#4DCF74" stroke="#333" stroke-width="1.1"/>
<line x1="1356.00" y1="1630.30" x2="1367.00" y2="1630.30" stroke="#222" stroke-width="1.8" />
<line x1="1387.40" y1="1715.20" x2="1387.40" y2="1729.80" stroke="#333" stroke-width="1.3" />
<rect x="1381.90" y="1701.00" width="11.00" height="14.20" fill="#4DD2D6" stroke="#333" stroke-width="1.1"/>
<line x1="1381.90" y1="1704.70" x2="1392.90" y2="1704.70" stroke="#222" stroke-width="1.8" />
<circle cx="1387.40" cy="1581.70" r="2.6" fill="#6b6b6b"/>
<line x1="1413.20" y1="1492.50" x2="1413.20" y2="1506.50" stroke="#333" stroke-width="1.3" />
<line x1="1413.20" y1="1548.60" x2="1413.20" y2="1559.50" stroke="#333" stroke-width="1.3" />
<rect x="1407.70" y="1506.50" width="11.00" height="42.10" fill="#90BAFF" stroke="#333" stroke-width="1.1"/>
<line x1="1407.70" y1="1527.90" x2="1418.70" y2="1527.90" stroke="#222" stroke-width="1.8" />
<line x1="1438.90" y1="1571.50" x2="1438.90" y2="1578.70" stroke="#333" stroke-width="1.3" />
<line x1="1438.90" y1="1595.40" x2="1438.90" y2="1610.90" stroke="#333" stroke-width="1.3" />
<rect x="1433.40" y="1578.70" width="11.00" height="16.70" fill="#F893EC" stroke="#333" stroke-width="1.1"/>
<line x1="1433.40" y1="1585.70" x2="1444.40" y2="1585.70" stroke="#222" stroke-width="1.8" />
<rect x="1279.3" y="1826.7" width="23" height="22.6" fill="#FDE3E1" stroke="#F8766D" stroke-opacity="0.8" stroke-width="1.3" stroke-dasharray="3.8 2.4"/>
<circle cx="1290.8" cy="1838.0" r="6.6" fill="#F8766D" opacity="0.8"/>
<text x="1308.6" y="1845.9" font-size="25.8" text-anchor="start" font-style="italic" fill="#000" >Tph1</text>
<text x="1366.4" y="1837.9" font-size="17.6" text-anchor="start" fill="#000" >+/+</text>
<text x="1398.9" y="1845.9" font-size="25.8" text-anchor="start" fill="#000" >0 dpi</text>
<rect x="1279.3" y="1856.0" width="23" height="22.6" fill="#F1EBCC" stroke="#B79F00" stroke-opacity="0.8" stroke-width="1.3" stroke-dasharray="3.8 2.4"/>
<circle cx="1290.8" cy="1867.3" r="6.6" fill="#B79F00" opacity="0.8"/>
<text x="1308.6" y="1875.2" font-size="25.8" text-anchor="start" font-style="italic" fill="#000" >Tph1</text>
<text x="1366.4" y="1867.2" font-size="17.6" text-anchor="start" fill="#000" >+/+</text>
<text x="1398.9" y="1875.2" font-size="25.8" text-anchor="start" fill="#000" >3 dpi</text>
<rect x="1279.3" y="1883.5" width="23" height="22.6" fill="#CCF1D7" stroke="#00BA38" stroke-opacity="0.8" stroke-width="1.3" stroke-dasharray="3.8 2.4"/>
<circle cx="1290.8" cy="1894.8" r="6.6" fill="#00BA38" opacity="0.8"/>
<text x="1308.6" y="1902.7" font-size="25.8" text-anchor="start" font-style="italic" fill="#000" >Tph1</text>
<text x="1366.4" y="1894.7" font-size="17.6" text-anchor="start" fill="#000" >+/+</text>
<text x="1398.9" y="1902.7" font-size="25.8" text-anchor="start" fill="#000" >7 dpi</text>
<rect x="1279.3" y="1910.1" width="23" height="22.6" fill="#CCF2F3" stroke="#00BFC4" stroke-opacity="0.8" stroke-width="1.3" stroke-dasharray="3.8 2.4"/>
<circle cx="1290.8" cy="1921.4" r="6.6" fill="#00BFC4" opacity="0.8"/>
<text x="1308.6" y="1929.3" font-size="25.8" text-anchor="start" font-style="italic" fill="#000" >Tph1</text>
<text x="1367.0" y="1921.3" font-size="17.6" text-anchor="start" fill="#000" >–/–</text>
<text x="1395.6" y="1929.3" font-size="25.8" text-anchor="start" fill="#000" >0 dpi</text>
<rect x="1279.3" y="1938.0" width="23" height="22.6" fill="#DFEBFF" stroke="#619CFF" stroke-opacity="0.8" stroke-width="1.3" stroke-dasharray="3.8 2.4"/>
<circle cx="1290.8" cy="1949.3" r="6.6" fill="#619CFF" opacity="0.8"/>
<text x="1308.6" y="1957.2" font-size="25.8" text-anchor="start" font-style="italic" fill="#000" >Tph1</text>
<text x="1367.0" y="1949.2" font-size="17.6" text-anchor="start" fill="#000" >–/–</text>
<text x="1398.9" y="1957.2" font-size="25.8" text-anchor="start" fill="#000" >3 dpi</text>
<rect x="1279.3" y="1967.6" width="23" height="22.6" fill="#FDE0F9" stroke="#F564E3" stroke-opacity="0.8" stroke-width="1.3" stroke-dasharray="3.8 2.4"/>
<circle cx="1290.8" cy="1978.9" r="6.6" fill="#F564E3" opacity="0.8"/>
<text x="1308.6" y="1986.8" font-size="25.8" text-anchor="start" font-style="italic" fill="#000" >Tph1</text>
<text x="1367.0" y="1978.8" font-size="17.6" text-anchor="start" fill="#000" >–/–</text>
<text x="1398.9" y="1986.8" font-size="25.8" text-anchor="start" fill="#000" >7 dpi</text>
<rect x="859.60" y="1855.60" width="377.00" height="105.70" fill="none" stroke="#8a8a8a" stroke-width="1.3"/>
<rect x="1166.20" y="1862.00" width="37.00" height="7.40" fill="#F893EC" stroke="#333" stroke-width="1.1"/>
<line x1="1202.40" y1="1862.00" x2="1202.40" y2="1869.40" stroke="#222" stroke-width="1.8" />
<circle cx="1062.50" cy="1865.70" r="2.6" fill="#6b6b6b"/>
<line x1="1151.70" y1="1882.70" x2="1155.30" y2="1882.70" stroke="#333" stroke-width="1.3" />
<rect x="1144.30" y="1879.00" width="7.40" height="7.40" fill="#90BAFF" stroke="#333" stroke-width="1.1"/>
<line x1="1146.20" y1="1879.00" x2="1146.20" y2="1886.40" stroke="#222" stroke-width="1.8" />
<circle cx="1133.10" cy="1882.70" r="2.6" fill="#6b6b6b"/>
<line x1="1203.20" y1="1900.00" x2="1219.10" y2="1900.00" stroke="#333" stroke-width="1.3" />
<rect x="1180.50" y="1896.30" width="22.70" height="7.40" fill="#4DD2D6" stroke="#333" stroke-width="1.1"/>
<line x1="1192.20" y1="1896.30" x2="1192.20" y2="1903.70" stroke="#222" stroke-width="1.8" />
<line x1="904.20" y1="1917.20" x2="910.80" y2="1917.20" stroke="#333" stroke-width="1.3" />
<line x1="932.70" y1="1917.20" x2="943.90" y2="1917.20" stroke="#333" stroke-width="1.3" />
<rect x="910.80" y="1913.50" width="21.90" height="7.40" fill="#4DCF74" stroke="#333" stroke-width="1.1"/>
<line x1="921.20" y1="1913.50" x2="921.20" y2="1920.90" stroke="#222" stroke-width="1.8" />
<line x1="899.30" y1="1934.50" x2="910.80" y2="1934.50" stroke="#333" stroke-width="1.3" />
<line x1="944.50" y1="1934.50" x2="964.20" y2="1934.50" stroke="#333" stroke-width="1.3" />
<rect x="910.80" y="1930.80" width="33.70" height="7.40" fill="#CDBC4D" stroke="#333" stroke-width="1.1"/>
<line x1="925.80" y1="1930.80" x2="925.80" y2="1938.20" stroke="#222" stroke-width="1.8" />
<line x1="876.60" y1="1951.40" x2="878.20" y2="1951.40" stroke="#333" stroke-width="1.3" />
<line x1="885.60" y1="1951.40" x2="891.60" y2="1951.40" stroke="#333" stroke-width="1.3" />
<rect x="878.20" y="1947.70" width="7.40" height="7.40" fill="#FA9F99" stroke="#333" stroke-width="1.1"/>
<line x1="880.90" y1="1947.70" x2="880.90" y2="1955.10" stroke="#222" stroke-width="1.8" />
<rect x="859.20" y="2011.20" width="376.50" height="260.50" fill="none" stroke="#8a8a8a" stroke-width="1.3"/>
<line x1="859.20" y1="2010.60" x2="859.20" y2="2272.30" stroke="#222" stroke-width="1.6" />
<line x1="858.60" y1="2271.70" x2="1236.30" y2="2271.70" stroke="#222" stroke-width="1.6" />
<line x1="854.70" y1="2031.60" x2="859.20" y2="2031.60" stroke="#222" stroke-width="1.4" />
<line x1="854.70" y1="2076.40" x2="859.20" y2="2076.40" stroke="#222" stroke-width="1.4" />
<line x1="854.70" y1="2120.60" x2="859.20" y2="2120.60" stroke="#222" stroke-width="1.4" />
<line x1="854.70" y1="2164.80" x2="859.20" y2="2164.80" stroke="#222" stroke-width="1.4" />
<line x1="854.70" y1="2209.00" x2="859.20" y2="2209.00" stroke="#222" stroke-width="1.4" />
<line x1="854.70" y1="2253.20" x2="859.20" y2="2253.20" stroke="#222" stroke-width="1.4" />
<text x="843.0" y="2038.4" font-size="20.8" text-anchor="end" fill="#000" >0.2</text>
<text x="843.0" y="2083.1" font-size="20.8" text-anchor="end" fill="#000" >0.1</text>
<text x="843.0" y="2128.2" font-size="20.8" text-anchor="end" fill="#000" >0.0</text>
<text x="843.0" y="2173.1" font-size="20.8" text-anchor="end" fill="#000" >-0.1</text>
<text x="843.0" y="2217.8" font-size="20.8" text-anchor="end" fill="#000" >-0.2</text>
<text x="843.0" y="2263.1" font-size="20.8" text-anchor="end" fill="#000" >-0.3</text>
<line x1="948.70" y1="2271.70" x2="948.70" y2="2275.70" stroke="#222" stroke-width="1.4" />
<line x1="1052.60" y1="2271.70" x2="1052.60" y2="2275.70" stroke="#222" stroke-width="1.4" />
<line x1="1156.40" y1="2271.70" x2="1156.40" y2="2275.70" stroke="#222" stroke-width="1.4" />
<text x="917.6" y="2300.1" font-size="20.8" text-anchor="start" fill="#000" >-0.25</text>
<text x="1028.8" y="2300.1" font-size="20.8" text-anchor="start" fill="#000" >0.0</text>
<text x="1122.7" y="2300.1" font-size="20.8" text-anchor="start" fill="#000" >0.25</text>
<circle cx="876.4" cy="2036.2" r="5.0" fill="#F8766D"/>
<circle cx="879.8" cy="2033.8" r="5.0" fill="#F8766D"/>
<circle cx="882.5" cy="2077.6" r="5.0" fill="#F8766D"/>
<circle cx="892.4" cy="2074.5" r="5.0" fill="#F8766D"/>
<circle cx="903.7" cy="2090.3" r="5.0" fill="#00BA38"/>
<circle cx="928.4" cy="2108.1" r="5.0" fill="#00BA38"/>
<circle cx="913.3" cy="2130.3" r="5.0" fill="#00BA38"/>
<circle cx="944.1" cy="2136.1" r="5.0" fill="#00BA38"/>
<circle cx="898.6" cy="2148.5" r="5.0" fill="#B79F00"/>
<circle cx="914.7" cy="2146.4" r="5.0" fill="#B79F00"/>
<circle cx="937.3" cy="2216.9" r="5.0" fill="#B79F00"/>
<circle cx="964.3" cy="2243.9" r="5.0" fill="#B79F00"/>
<circle cx="1062.2" cy="2043.0" r="5.0" fill="#F564E3"/>
<circle cx="1203.2" cy="2022.5" r="5.0" fill="#00BFC4"/>
<circle cx="1219.3" cy="2031.1" r="5.0" fill="#00BFC4"/>
<circle cx="1203.2" cy="2049.9" r="5.0" fill="#00BFC4"/>
<circle cx="1182.0" cy="2057.4" r="5.0" fill="#00BFC4"/>
<circle cx="1179.9" cy="2065.3" r="5.0" fill="#00BFC4"/>
<circle cx="1204.9" cy="2073.8" r="5.0" fill="#F564E3"/>
<circle cx="1179.9" cy="2093.4" r="5.0" fill="#00BFC4"/>
<circle cx="1202.5" cy="2109.8" r="5.0" fill="#F564E3"/>
<circle cx="1200.8" cy="2125.2" r="5.0" fill="#F564E3"/>
<circle cx="1147.4" cy="2248.4" r="5.0" fill="#619CFF"/>
<circle cx="1155.3" cy="2251.1" r="5.0" fill="#619CFF"/>
<circle cx="1133.0" cy="2256.9" r="5.0" fill="#619CFF"/>
<circle cx="1149.5" cy="2260.4" r="5.0" fill="#619CFF"/>
<text x="942.2" y="2333.8" font-size="26.1" text-anchor="start" fill="#000" >Bray-Curtis PC1 (41%)</text>
<text transform="translate(792.4,2261.0) rotate(-90)" font-size="26.1" x="0" y="0">Bray-Curtis PC2 (12%)</text>
<rect x="1294.60" y="2011.10" width="158.80" height="260.70" fill="none" stroke="#8a8a8a" stroke-width="1.3"/>
<line x1="1309.70" y1="2034.60" x2="1309.70" y2="2036.20" stroke="#333" stroke-width="1.3" />
<line x1="1309.70" y1="2075.20" x2="1309.70" y2="2077.30" stroke="#333" stroke-width="1.3" />
<rect x="1304.20" y="2036.20" width="11.00" height="39.00" fill="#FA9F99" stroke="#333" stroke-width="1.1"/>
<line x1="1304.20" y1="2055.40" x2="1315.20" y2="2055.40" stroke="#222" stroke-width="1.8" />
<line x1="1335.50" y1="2147.10" x2="1335.50" y2="2148.30" stroke="#333" stroke-width="1.3" />
<line x1="1335.50" y1="2223.90" x2="1335.50" y2="2243.30" stroke="#333" stroke-width="1.3" />
<rect x="1330.00" y="2148.30" width="11.00" height="75.60" fill="#CDBC4D" stroke="#333" stroke-width="1.1"/>
<line x1="1330.00" y1="2183.00" x2="1341.00" y2="2183.00" stroke="#222" stroke-width="1.8" />
<line x1="1361.10" y1="2091.30" x2="1361.10" y2="2103.70" stroke="#333" stroke-width="1.3" />
<line x1="1361.10" y1="2132.20" x2="1361.10" y2="2136.20" stroke="#333" stroke-width="1.3" />
<rect x="1355.60" y="2103.70" width="11.00" height="28.50" fill="#4DCF74" stroke="#333" stroke-width="1.1"/>
<line x1="1355.60" y1="2119.50" x2="1366.60" y2="2119.50" stroke="#222" stroke-width="1.8" />
<line x1="1386.90" y1="2022.80" x2="1386.90" y2="2036.10" stroke="#333" stroke-width="1.3" />
<line x1="1386.90" y1="2063.70" x2="1386.90" y2="2093.40" stroke="#333" stroke-width="1.3" />
<rect x="1381.40" y="2036.10" width="11.00" height="27.60" fill="#4DD2D6" stroke="#333" stroke-width="1.1"/>
<line x1="1381.40" y1="2053.80" x2="1392.40" y2="2053.80" stroke="#222" stroke-width="1.8" />
<line x1="1412.60" y1="2248.90" x2="1412.60" y2="2250.20" stroke="#333" stroke-width="1.3" />
<line x1="1412.60" y1="2257.60" x2="1412.60" y2="2259.50" stroke="#333" stroke-width="1.3" />
<rect x="1407.10" y="2250.20" width="11.00" height="7.40" fill="#90BAFF" stroke="#333" stroke-width="1.1"/>
<line x1="1407.10" y1="2253.90" x2="1418.10" y2="2253.90" stroke="#222" stroke-width="1.8" />
<line x1="1438.30" y1="2043.50" x2="1438.30" y2="2066.60" stroke="#333" stroke-width="1.3" />
<line x1="1438.30" y1="2113.90" x2="1438.30" y2="2124.80" stroke="#333" stroke-width="1.3" />
<rect x="1432.80" y="2066.60" width="11.00" height="47.30" fill="#F893EC" stroke="#333" stroke-width="1.1"/>
<line x1="1432.80" y1="2092.20" x2="1443.80" y2="2092.20" stroke="#222" stroke-width="1.8" />
</svg>
</body></html>
